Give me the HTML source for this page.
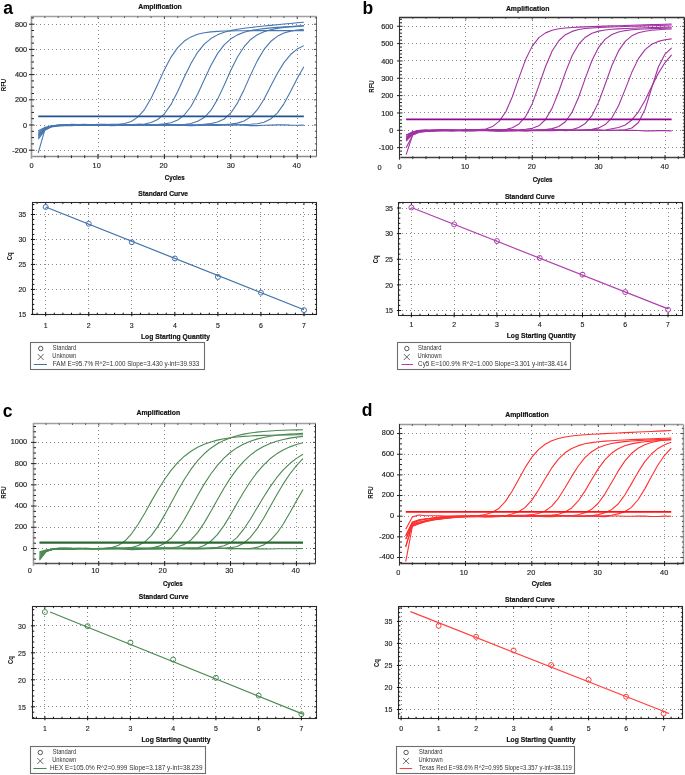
<!DOCTYPE html>
<html><head><meta charset="utf-8"><style>
html,body{margin:0;padding:0;background:#fff;}
body{width:685px;height:775px;overflow:hidden;font-family:"Liberation Sans",sans-serif;}
svg{display:block;will-change:transform;}
</style></head><body>
<svg width="685" height="775" viewBox="0 0 685 775" font-family="Liberation Sans, sans-serif">
<line x1="98.5" y1="18" x2="98.5" y2="155.5" stroke="#8a8a8a" stroke-width="1" stroke-dasharray="1 3"/>
<line x1="164.5" y1="18" x2="164.5" y2="155.5" stroke="#8a8a8a" stroke-width="1" stroke-dasharray="1 3"/>
<line x1="230.5" y1="18" x2="230.5" y2="155.5" stroke="#8a8a8a" stroke-width="1" stroke-dasharray="1 3"/>
<line x1="297.5" y1="18" x2="297.5" y2="155.5" stroke="#8a8a8a" stroke-width="1" stroke-dasharray="1 3"/>
<line x1="36" y1="24.5" x2="315.5" y2="24.5" stroke="#8a8a8a" stroke-width="1" stroke-dasharray="1 3"/>
<line x1="36" y1="49.5" x2="315.5" y2="49.5" stroke="#8a8a8a" stroke-width="1" stroke-dasharray="1 3"/>
<line x1="36" y1="74.5" x2="315.5" y2="74.5" stroke="#8a8a8a" stroke-width="1" stroke-dasharray="1 3"/>
<line x1="36" y1="99.5" x2="315.5" y2="99.5" stroke="#8a8a8a" stroke-width="1" stroke-dasharray="1 3"/>
<line x1="36" y1="125.5" x2="315.5" y2="125.5" stroke="#8a8a8a" stroke-width="1" stroke-dasharray="1 3"/>
<line x1="36" y1="150.5" x2="315.5" y2="150.5" stroke="#8a8a8a" stroke-width="1" stroke-dasharray="1 3"/>
<line x1="31.5" y1="16.5" x2="316.5" y2="16.5" stroke="#a0a0a0" stroke-width="1.5" />
<line x1="316.5" y1="16.5" x2="316.5" y2="156.5" stroke="#666" stroke-width="1" />
<line x1="44.88" y1="16.5" x2="44.88" y2="17.9" stroke="#333" stroke-width="0.9" />
<line x1="58.16" y1="16.5" x2="58.16" y2="17.9" stroke="#333" stroke-width="0.9" />
<line x1="71.44" y1="16.5" x2="71.44" y2="17.9" stroke="#333" stroke-width="0.9" />
<line x1="84.72" y1="16.5" x2="84.72" y2="17.9" stroke="#333" stroke-width="0.9" />
<line x1="98" y1="16.5" x2="98" y2="18.7" stroke="#333" stroke-width="0.9" />
<line x1="111.28" y1="16.5" x2="111.28" y2="17.9" stroke="#333" stroke-width="0.9" />
<line x1="124.56" y1="16.5" x2="124.56" y2="17.9" stroke="#333" stroke-width="0.9" />
<line x1="137.84" y1="16.5" x2="137.84" y2="17.9" stroke="#333" stroke-width="0.9" />
<line x1="151.12" y1="16.5" x2="151.12" y2="17.9" stroke="#333" stroke-width="0.9" />
<line x1="164.4" y1="16.5" x2="164.4" y2="18.7" stroke="#333" stroke-width="0.9" />
<line x1="177.68" y1="16.5" x2="177.68" y2="17.9" stroke="#333" stroke-width="0.9" />
<line x1="190.96" y1="16.5" x2="190.96" y2="17.9" stroke="#333" stroke-width="0.9" />
<line x1="204.24" y1="16.5" x2="204.24" y2="17.9" stroke="#333" stroke-width="0.9" />
<line x1="217.52" y1="16.5" x2="217.52" y2="17.9" stroke="#333" stroke-width="0.9" />
<line x1="230.8" y1="16.5" x2="230.8" y2="18.7" stroke="#333" stroke-width="0.9" />
<line x1="244.08" y1="16.5" x2="244.08" y2="17.9" stroke="#333" stroke-width="0.9" />
<line x1="257.36" y1="16.5" x2="257.36" y2="17.9" stroke="#333" stroke-width="0.9" />
<line x1="270.64" y1="16.5" x2="270.64" y2="17.9" stroke="#333" stroke-width="0.9" />
<line x1="283.92" y1="16.5" x2="283.92" y2="17.9" stroke="#333" stroke-width="0.9" />
<line x1="297.2" y1="16.5" x2="297.2" y2="18.7" stroke="#333" stroke-width="0.9" />
<line x1="310.48" y1="16.5" x2="310.48" y2="17.9" stroke="#333" stroke-width="0.9" />
<line x1="316.5" y1="150.2" x2="314" y2="150.2" stroke="#333" stroke-width="0.9" />
<line x1="316.5" y1="143.9" x2="314.9" y2="143.9" stroke="#333" stroke-width="0.9" />
<line x1="316.5" y1="137.6" x2="314.9" y2="137.6" stroke="#333" stroke-width="0.9" />
<line x1="316.5" y1="131.3" x2="314.9" y2="131.3" stroke="#333" stroke-width="0.9" />
<line x1="316.5" y1="125" x2="314" y2="125" stroke="#333" stroke-width="0.9" />
<line x1="316.5" y1="118.7" x2="314.9" y2="118.7" stroke="#333" stroke-width="0.9" />
<line x1="316.5" y1="112.4" x2="314.9" y2="112.4" stroke="#333" stroke-width="0.9" />
<line x1="316.5" y1="106.1" x2="314.9" y2="106.1" stroke="#333" stroke-width="0.9" />
<line x1="316.5" y1="99.8" x2="314" y2="99.8" stroke="#333" stroke-width="0.9" />
<line x1="316.5" y1="93.5" x2="314.9" y2="93.5" stroke="#333" stroke-width="0.9" />
<line x1="316.5" y1="87.2" x2="314.9" y2="87.2" stroke="#333" stroke-width="0.9" />
<line x1="316.5" y1="80.9" x2="314.9" y2="80.9" stroke="#333" stroke-width="0.9" />
<line x1="316.5" y1="74.6" x2="314" y2="74.6" stroke="#333" stroke-width="0.9" />
<line x1="316.5" y1="68.3" x2="314.9" y2="68.3" stroke="#333" stroke-width="0.9" />
<line x1="316.5" y1="62" x2="314.9" y2="62" stroke="#333" stroke-width="0.9" />
<line x1="316.5" y1="55.7" x2="314.9" y2="55.7" stroke="#333" stroke-width="0.9" />
<line x1="316.5" y1="49.4" x2="314" y2="49.4" stroke="#333" stroke-width="0.9" />
<line x1="316.5" y1="43.1" x2="314.9" y2="43.1" stroke="#333" stroke-width="0.9" />
<line x1="316.5" y1="36.8" x2="314.9" y2="36.8" stroke="#333" stroke-width="0.9" />
<line x1="316.5" y1="30.5" x2="314.9" y2="30.5" stroke="#333" stroke-width="0.9" />
<line x1="316.5" y1="24.2" x2="314" y2="24.2" stroke="#333" stroke-width="0.9" />
<line x1="316.5" y1="17.9" x2="314.9" y2="17.9" stroke="#333" stroke-width="0.9" />
<path d="M38.24,132.56 L44.88,128.04 L51.52,126.43 L58.16,125.6 L64.8,125.37 L71.44,125.31 L78.08,125.25 L84.72,125.36 L91.36,125.33 L98,124.9 L104.64,124.49 L111.28,124.32 L117.92,124.23 L124.56,123.53 L131.2,121.5 L137.84,117.15 L144.48,109.57 L151.12,98.28 L157.76,84.17 L164.4,69.64 L171.04,57.06 L177.68,47.56 L184.32,41.06 L190.96,36.89 L197.6,34.33 L204.24,32.8 L210.88,31.89 L217.52,31.36 L224.16,31.05 L230.8,30.87 L237.44,30.77 L244.08,30.71 L250.72,30.67 L257.36,30.65 L264,30.64 L270.64,30.63 L277.28,30.63 L283.92,30.63 L290.56,30.63 L297.2,30.63 L303.84,30.63" stroke="#4777b0" stroke-width="1.1" fill="none" stroke-linejoin="round"/>
<path d="M38.24,135.08 L44.88,128.66 L51.52,126.13 L58.16,125.19 L64.8,124.85 L71.44,124.67 L78.08,124.82 L84.72,125.08 L91.36,125.22 L98,125.43 L104.64,125.57 L111.28,125.41 L117.92,124.91 L124.56,124.67 L131.2,124.64 L137.84,124.38 L144.48,123.94 L151.12,122.56 L157.76,119.53 L164.4,113.8 L171.04,104.39 L177.68,91.58 L184.32,77.1 L190.96,63.43 L197.6,52.32 L204.24,44.19 L210.88,38.6 L217.52,34.86 L224.16,32.34 L230.8,30.59 L237.44,29.3 L244.08,28.29 L250.72,27.44 L257.36,26.69 L264,25.99 L270.64,25.33 L277.28,24.68 L283.92,24.05 L290.56,23.43 L297.2,22.8 L303.84,22.18" stroke="#4777b0" stroke-width="1.1" fill="none" stroke-linejoin="round"/>
<path d="M38.24,137.6 L44.88,129.35 L51.52,126.42 L58.16,125.66 L64.8,124.97 L71.44,124.19 L78.08,124.49 L84.72,125.14 L91.36,125 L98,124.51 L104.64,124.37 L111.28,124.7 L117.92,125.11 L124.56,125.06 L131.2,124.71 L137.84,124.72 L144.48,124.93 L151.12,124.9 L157.76,124.53 L164.4,123.91 L171.04,122.77 L177.68,120.08 L184.32,115.01 L190.96,106.51 L197.6,94.21 L204.24,79.67 L210.88,65.46 L217.52,53.61 L224.16,44.84 L230.8,38.82 L237.44,34.87 L244.08,32.29 L250.72,30.59 L257.36,29.43 L264,28.58 L270.64,27.92 L277.28,27.37 L283.92,26.88 L290.56,26.43 L297.2,26 L303.84,25.59" stroke="#4777b0" stroke-width="1.1" fill="none" stroke-linejoin="round"/>
<path d="M38.24,133.82 L44.88,128.2 L51.52,125.96 L58.16,125.18 L64.8,125.1 L71.44,124.91 L78.08,124.84 L84.72,124.89 L91.36,124.74 L98,124.89 L104.64,125.04 L111.28,125.01 L117.92,125.2 L124.56,125.17 L131.2,124.95 L137.84,125 L144.48,125.17 L151.12,125.14 L157.76,124.91 L164.4,124.83 L171.04,124.99 L177.68,124.88 L184.32,124.6 L190.96,123.51 L197.6,121.19 L204.24,117.52 L210.88,110.45 L217.52,99.37 L224.16,85.21 L230.8,70.24 L237.44,56.95 L244.08,46.68 L250.72,39.47 L257.36,34.7 L264,31.64 L270.64,29.67 L277.28,28.39 L283.92,27.51 L290.56,26.87 L297.2,26.38 L303.84,25.96" stroke="#4777b0" stroke-width="1.1" fill="none" stroke-linejoin="round"/>
<path d="M38.24,139.24 L44.88,130.31 L51.52,126.86 L58.16,125.9 L64.8,125.74 L71.44,125.64 L78.08,125.29 L84.72,124.96 L91.36,125.01 L98,124.94 L104.64,124.48 L111.28,124.49 L117.92,124.99 L124.56,125.24 L131.2,125.18 L137.84,125.05 L144.48,124.97 L151.12,124.82 L157.76,124.61 L164.4,124.44 L171.04,124.58 L177.68,124.86 L184.32,124.98 L190.96,125.09 L197.6,124.8 L204.24,124.21 L210.88,123.52 L217.52,122.02 L224.16,118.97 L230.8,112.94 L237.44,103.07 L244.08,89.65 L250.72,74.62 L257.36,60.63 L264,49.47 L270.64,41.53 L277.28,36.32 L283.92,33.07 L290.56,31.1 L297.2,29.93 L303.84,29.24" stroke="#4777b0" stroke-width="1.1" fill="none" stroke-linejoin="round"/>
<path d="M38.24,136.34 L44.88,128.6 L51.52,125.73 L58.16,125.13 L64.8,125.13 L71.44,125.1 L78.08,125.16 L84.72,125.27 L91.36,124.91 L98,124.4 L104.64,124.45 L111.28,124.63 L117.92,124.5 L124.56,124.43 L131.2,124.46 L137.84,124.39 L144.48,124.54 L151.12,124.67 L157.76,124.86 L164.4,125.35 L171.04,125.32 L177.68,125.08 L184.32,125.16 L190.96,125.17 L197.6,125.19 L204.24,124.89 L210.88,124.39 L217.52,124.47 L224.16,124.5 L230.8,124.04 L237.44,123.14 L244.08,121.05 L250.72,116.88 L257.36,109.74 L264,99.17 L270.64,86.32 L277.28,73.46 L283.92,62.59 L290.56,54.53 L297.2,49.08 L303.84,45.62" stroke="#4777b0" stroke-width="1.1" fill="none" stroke-linejoin="round"/>
<path d="M38.24,152.85 L44.88,129.68 L51.52,126.67 L58.16,125.5 L64.8,125.14 L71.44,124.95 L78.08,124.46 L84.72,124.33 L91.36,124.76 L98,124.94 L104.64,124.76 L111.28,124.47 L117.92,124.56 L124.56,125.06 L131.2,125.3 L137.84,125.33 L144.48,125.44 L151.12,125.35 L157.76,125.15 L164.4,124.99 L171.04,124.67 L177.68,124.72 L184.32,125.16 L190.96,125.32 L197.6,125.03 L204.24,124.81 L210.88,125.12 L217.52,125.33 L224.16,125.05 L230.8,124.91 L237.44,124.79 L244.08,124.46 L250.72,124.2 L257.36,123.71 L264,122.26 L270.64,119.01 L277.28,113.12 L283.92,103.81 L290.56,91.61 L297.2,78.48 L303.84,66.66" stroke="#4777b0" stroke-width="1.1" fill="none" stroke-linejoin="round"/>
<path d="M38.24,130.8 L44.88,127.39 L51.52,126.05 L58.16,125.2 L64.8,125 L71.44,124.86 L78.08,124.99 L84.72,125.29 L91.36,124.99 L98,124.71 L104.64,125.22 L111.28,125.61 L117.92,125.41 L124.56,125.17 L131.2,125.15 L137.84,125.23 L144.48,125.4 L151.12,125.46 L157.76,124.98 L164.4,124.53 L171.04,124.81 L177.68,125.24 L184.32,125.5 L190.96,125.66 L197.6,125.36 L204.24,125.18 L210.88,125.28 L217.52,125.11 L224.16,124.93 L230.8,124.87 L237.44,124.94 L244.08,125.24 L250.72,125.6 L257.36,125.59 L264,125.29 L270.64,125.08 L277.28,124.91 L283.92,124.87 L290.56,125.15 L297.2,125.21 L303.84,125.09" stroke="#4777b0" stroke-width="1.1" fill="none" stroke-linejoin="round"/>
<line x1="38.24" y1="116.43" x2="303.84" y2="116.43" stroke="#245490" stroke-width="1.75" />
<line x1="31.5" y1="15.9" x2="31.5" y2="158.7" stroke="#9a9a9a" stroke-width="1.6" />
<line x1="32.3" y1="156.5" x2="317" y2="156.5" stroke="#8a8a8a" stroke-width="1.5" />
<line x1="29" y1="150.2" x2="34.5" y2="150.2" stroke="#222" stroke-width="1" />
<line x1="31.5" y1="143.9" x2="34" y2="143.9" stroke="#222" stroke-width="1" />
<line x1="31.5" y1="137.6" x2="34" y2="137.6" stroke="#222" stroke-width="1" />
<line x1="31.5" y1="131.3" x2="34" y2="131.3" stroke="#222" stroke-width="1" />
<line x1="29" y1="125" x2="34.5" y2="125" stroke="#222" stroke-width="1" />
<line x1="31.5" y1="118.7" x2="34" y2="118.7" stroke="#222" stroke-width="1" />
<line x1="31.5" y1="112.4" x2="34" y2="112.4" stroke="#222" stroke-width="1" />
<line x1="31.5" y1="106.1" x2="34" y2="106.1" stroke="#222" stroke-width="1" />
<line x1="29" y1="99.8" x2="34.5" y2="99.8" stroke="#222" stroke-width="1" />
<line x1="31.5" y1="93.5" x2="34" y2="93.5" stroke="#222" stroke-width="1" />
<line x1="31.5" y1="87.2" x2="34" y2="87.2" stroke="#222" stroke-width="1" />
<line x1="31.5" y1="80.9" x2="34" y2="80.9" stroke="#222" stroke-width="1" />
<line x1="29" y1="74.6" x2="34.5" y2="74.6" stroke="#222" stroke-width="1" />
<line x1="31.5" y1="68.3" x2="34" y2="68.3" stroke="#222" stroke-width="1" />
<line x1="31.5" y1="62" x2="34" y2="62" stroke="#222" stroke-width="1" />
<line x1="31.5" y1="55.7" x2="34" y2="55.7" stroke="#222" stroke-width="1" />
<line x1="29" y1="49.4" x2="34.5" y2="49.4" stroke="#222" stroke-width="1" />
<line x1="31.5" y1="43.1" x2="34" y2="43.1" stroke="#222" stroke-width="1" />
<line x1="31.5" y1="36.8" x2="34" y2="36.8" stroke="#222" stroke-width="1" />
<line x1="31.5" y1="30.5" x2="34" y2="30.5" stroke="#222" stroke-width="1" />
<line x1="29" y1="24.2" x2="34.5" y2="24.2" stroke="#222" stroke-width="1" />
<line x1="31.5" y1="17.9" x2="34" y2="17.9" stroke="#222" stroke-width="1" />
<line x1="44.88" y1="155.3" x2="44.88" y2="158.1" stroke="#2a2a2a" stroke-width="1" />
<line x1="58.16" y1="155.3" x2="58.16" y2="158.1" stroke="#2a2a2a" stroke-width="1" />
<line x1="71.44" y1="155.3" x2="71.44" y2="158.1" stroke="#2a2a2a" stroke-width="1" />
<line x1="84.72" y1="155.3" x2="84.72" y2="158.1" stroke="#2a2a2a" stroke-width="1" />
<line x1="98" y1="154" x2="98" y2="159" stroke="#222" stroke-width="1" />
<line x1="111.28" y1="155.3" x2="111.28" y2="158.1" stroke="#2a2a2a" stroke-width="1" />
<line x1="124.56" y1="155.3" x2="124.56" y2="158.1" stroke="#2a2a2a" stroke-width="1" />
<line x1="137.84" y1="155.3" x2="137.84" y2="158.1" stroke="#2a2a2a" stroke-width="1" />
<line x1="151.12" y1="155.3" x2="151.12" y2="158.1" stroke="#2a2a2a" stroke-width="1" />
<line x1="164.4" y1="154" x2="164.4" y2="159" stroke="#222" stroke-width="1" />
<line x1="177.68" y1="155.3" x2="177.68" y2="158.1" stroke="#2a2a2a" stroke-width="1" />
<line x1="190.96" y1="155.3" x2="190.96" y2="158.1" stroke="#2a2a2a" stroke-width="1" />
<line x1="204.24" y1="155.3" x2="204.24" y2="158.1" stroke="#2a2a2a" stroke-width="1" />
<line x1="217.52" y1="155.3" x2="217.52" y2="158.1" stroke="#2a2a2a" stroke-width="1" />
<line x1="230.8" y1="154" x2="230.8" y2="159" stroke="#222" stroke-width="1" />
<line x1="244.08" y1="155.3" x2="244.08" y2="158.1" stroke="#2a2a2a" stroke-width="1" />
<line x1="257.36" y1="155.3" x2="257.36" y2="158.1" stroke="#2a2a2a" stroke-width="1" />
<line x1="270.64" y1="155.3" x2="270.64" y2="158.1" stroke="#2a2a2a" stroke-width="1" />
<line x1="283.92" y1="155.3" x2="283.92" y2="158.1" stroke="#2a2a2a" stroke-width="1" />
<line x1="297.2" y1="154" x2="297.2" y2="159" stroke="#222" stroke-width="1" />
<line x1="310.48" y1="155.3" x2="310.48" y2="158.1" stroke="#2a2a2a" stroke-width="1" />
<text x="27.1" y="26.7" font-size="7.8" text-anchor="end" fill="#222" stroke="#222" stroke-width="0.18" textLength="12.15" lengthAdjust="spacingAndGlyphs">800</text>
<text x="27.1" y="51.9" font-size="7.8" text-anchor="end" fill="#222" stroke="#222" stroke-width="0.18" textLength="12.15" lengthAdjust="spacingAndGlyphs">600</text>
<text x="27.1" y="77.1" font-size="7.8" text-anchor="end" fill="#222" stroke="#222" stroke-width="0.18" textLength="12.15" lengthAdjust="spacingAndGlyphs">400</text>
<text x="27.1" y="102.3" font-size="7.8" text-anchor="end" fill="#222" stroke="#222" stroke-width="0.18" textLength="12.15" lengthAdjust="spacingAndGlyphs">200</text>
<text x="27.1" y="127.5" font-size="7.8" text-anchor="end" fill="#222" stroke="#222" stroke-width="0.18" textLength="4.05" lengthAdjust="spacingAndGlyphs">0</text>
<text x="27.1" y="152.7" font-size="7.8" text-anchor="end" fill="#222" stroke="#222" stroke-width="0.18" textLength="14.75" lengthAdjust="spacingAndGlyphs">-200</text>
<text x="31.6" y="167.7" font-size="7.6" text-anchor="middle" fill="#222" stroke="#222" stroke-width="0.15" textLength="4.1" lengthAdjust="spacingAndGlyphs">0</text>
<text x="96.7" y="167.7" font-size="7.6" text-anchor="middle" fill="#222" stroke="#222" stroke-width="0.15" textLength="8.2" lengthAdjust="spacingAndGlyphs">10</text>
<text x="163.6" y="167.7" font-size="7.6" text-anchor="middle" fill="#222" stroke="#222" stroke-width="0.15" textLength="8.2" lengthAdjust="spacingAndGlyphs">20</text>
<text x="230.8" y="167.7" font-size="7.6" text-anchor="middle" fill="#222" stroke="#222" stroke-width="0.15" textLength="8.2" lengthAdjust="spacingAndGlyphs">30</text>
<text x="296.7" y="167.7" font-size="7.6" text-anchor="middle" fill="#222" stroke="#222" stroke-width="0.15" textLength="8.2" lengthAdjust="spacingAndGlyphs">40</text>
<text x="160" y="9.1" font-size="7.3" text-anchor="middle" fill="#111" stroke="#111" stroke-width="0.2" font-weight="bold" textLength="43.6" lengthAdjust="spacingAndGlyphs">Amplification</text>
<text x="174.7" y="180.1" font-size="7" text-anchor="middle" fill="#111" stroke="#111" stroke-width="0.2" font-weight="bold" textLength="19.8" lengthAdjust="spacingAndGlyphs">Cycles</text>
<text x="5.9" y="85" font-size="6.6" text-anchor="middle" fill="#111" font-weight="bold" textLength="12.5" lengthAdjust="spacingAndGlyphs" transform="rotate(-90 5.9 85)">RFU</text>
<line x1="465.5" y1="20" x2="465.5" y2="156.5" stroke="#8a8a8a" stroke-width="1" stroke-dasharray="1 3"/>
<line x1="532.5" y1="20" x2="532.5" y2="156.5" stroke="#8a8a8a" stroke-width="1" stroke-dasharray="1 3"/>
<line x1="598.5" y1="20" x2="598.5" y2="156.5" stroke="#8a8a8a" stroke-width="1" stroke-dasharray="1 3"/>
<line x1="665.5" y1="20" x2="665.5" y2="156.5" stroke="#8a8a8a" stroke-width="1" stroke-dasharray="1 3"/>
<line x1="404" y1="26.5" x2="683.5" y2="26.5" stroke="#8a8a8a" stroke-width="1" stroke-dasharray="1 3"/>
<line x1="404" y1="43.5" x2="683.5" y2="43.5" stroke="#8a8a8a" stroke-width="1" stroke-dasharray="1 3"/>
<line x1="404" y1="60.5" x2="683.5" y2="60.5" stroke="#8a8a8a" stroke-width="1" stroke-dasharray="1 3"/>
<line x1="404" y1="78.5" x2="683.5" y2="78.5" stroke="#8a8a8a" stroke-width="1" stroke-dasharray="1 3"/>
<line x1="404" y1="95.5" x2="683.5" y2="95.5" stroke="#8a8a8a" stroke-width="1" stroke-dasharray="1 3"/>
<line x1="404" y1="112.5" x2="683.5" y2="112.5" stroke="#8a8a8a" stroke-width="1" stroke-dasharray="1 3"/>
<line x1="404" y1="130.5" x2="683.5" y2="130.5" stroke="#8a8a8a" stroke-width="1" stroke-dasharray="1 3"/>
<line x1="404" y1="147.5" x2="683.5" y2="147.5" stroke="#8a8a8a" stroke-width="1" stroke-dasharray="1 3"/>
<line x1="399.5" y1="17.5" x2="684.5" y2="17.5" stroke="#333" stroke-width="1.3" />
<line x1="684.5" y1="17.5" x2="684.5" y2="157.5" stroke="#222" stroke-width="1.2" />
<line x1="412.77" y1="17.5" x2="412.77" y2="18.9" stroke="#333" stroke-width="0.9" />
<line x1="426.05" y1="17.5" x2="426.05" y2="18.9" stroke="#333" stroke-width="0.9" />
<line x1="439.32" y1="17.5" x2="439.32" y2="18.9" stroke="#333" stroke-width="0.9" />
<line x1="452.6" y1="17.5" x2="452.6" y2="18.9" stroke="#333" stroke-width="0.9" />
<line x1="465.88" y1="17.5" x2="465.88" y2="19.7" stroke="#333" stroke-width="0.9" />
<line x1="479.15" y1="17.5" x2="479.15" y2="18.9" stroke="#333" stroke-width="0.9" />
<line x1="492.43" y1="17.5" x2="492.43" y2="18.9" stroke="#333" stroke-width="0.9" />
<line x1="505.7" y1="17.5" x2="505.7" y2="18.9" stroke="#333" stroke-width="0.9" />
<line x1="518.98" y1="17.5" x2="518.98" y2="18.9" stroke="#333" stroke-width="0.9" />
<line x1="532.25" y1="17.5" x2="532.25" y2="19.7" stroke="#333" stroke-width="0.9" />
<line x1="545.52" y1="17.5" x2="545.52" y2="18.9" stroke="#333" stroke-width="0.9" />
<line x1="558.8" y1="17.5" x2="558.8" y2="18.9" stroke="#333" stroke-width="0.9" />
<line x1="572.08" y1="17.5" x2="572.08" y2="18.9" stroke="#333" stroke-width="0.9" />
<line x1="585.35" y1="17.5" x2="585.35" y2="18.9" stroke="#333" stroke-width="0.9" />
<line x1="598.62" y1="17.5" x2="598.62" y2="19.7" stroke="#333" stroke-width="0.9" />
<line x1="611.9" y1="17.5" x2="611.9" y2="18.9" stroke="#333" stroke-width="0.9" />
<line x1="625.17" y1="17.5" x2="625.17" y2="18.9" stroke="#333" stroke-width="0.9" />
<line x1="638.45" y1="17.5" x2="638.45" y2="18.9" stroke="#333" stroke-width="0.9" />
<line x1="651.73" y1="17.5" x2="651.73" y2="18.9" stroke="#333" stroke-width="0.9" />
<line x1="665" y1="17.5" x2="665" y2="19.7" stroke="#333" stroke-width="0.9" />
<line x1="678.28" y1="17.5" x2="678.28" y2="18.9" stroke="#333" stroke-width="0.9" />
<line x1="684.5" y1="154.58" x2="682.9" y2="154.58" stroke="#333" stroke-width="0.9" />
<line x1="684.5" y1="151.11" x2="682.9" y2="151.11" stroke="#333" stroke-width="0.9" />
<line x1="684.5" y1="147.64" x2="682" y2="147.64" stroke="#333" stroke-width="0.9" />
<line x1="684.5" y1="144.17" x2="682.9" y2="144.17" stroke="#333" stroke-width="0.9" />
<line x1="684.5" y1="140.7" x2="682.9" y2="140.7" stroke="#333" stroke-width="0.9" />
<line x1="684.5" y1="137.24" x2="682.9" y2="137.24" stroke="#333" stroke-width="0.9" />
<line x1="684.5" y1="133.77" x2="682.9" y2="133.77" stroke="#333" stroke-width="0.9" />
<line x1="684.5" y1="130.3" x2="682" y2="130.3" stroke="#333" stroke-width="0.9" />
<line x1="684.5" y1="126.83" x2="682.9" y2="126.83" stroke="#333" stroke-width="0.9" />
<line x1="684.5" y1="123.36" x2="682.9" y2="123.36" stroke="#333" stroke-width="0.9" />
<line x1="684.5" y1="119.9" x2="682.9" y2="119.9" stroke="#333" stroke-width="0.9" />
<line x1="684.5" y1="116.43" x2="682.9" y2="116.43" stroke="#333" stroke-width="0.9" />
<line x1="684.5" y1="112.96" x2="682" y2="112.96" stroke="#333" stroke-width="0.9" />
<line x1="684.5" y1="109.49" x2="682.9" y2="109.49" stroke="#333" stroke-width="0.9" />
<line x1="684.5" y1="106.02" x2="682.9" y2="106.02" stroke="#333" stroke-width="0.9" />
<line x1="684.5" y1="102.56" x2="682.9" y2="102.56" stroke="#333" stroke-width="0.9" />
<line x1="684.5" y1="99.09" x2="682.9" y2="99.09" stroke="#333" stroke-width="0.9" />
<line x1="684.5" y1="95.62" x2="682" y2="95.62" stroke="#333" stroke-width="0.9" />
<line x1="684.5" y1="92.15" x2="682.9" y2="92.15" stroke="#333" stroke-width="0.9" />
<line x1="684.5" y1="88.68" x2="682.9" y2="88.68" stroke="#333" stroke-width="0.9" />
<line x1="684.5" y1="85.22" x2="682.9" y2="85.22" stroke="#333" stroke-width="0.9" />
<line x1="684.5" y1="81.75" x2="682.9" y2="81.75" stroke="#333" stroke-width="0.9" />
<line x1="684.5" y1="78.28" x2="682" y2="78.28" stroke="#333" stroke-width="0.9" />
<line x1="684.5" y1="74.81" x2="682.9" y2="74.81" stroke="#333" stroke-width="0.9" />
<line x1="684.5" y1="71.34" x2="682.9" y2="71.34" stroke="#333" stroke-width="0.9" />
<line x1="684.5" y1="67.88" x2="682.9" y2="67.88" stroke="#333" stroke-width="0.9" />
<line x1="684.5" y1="64.41" x2="682.9" y2="64.41" stroke="#333" stroke-width="0.9" />
<line x1="684.5" y1="60.94" x2="682" y2="60.94" stroke="#333" stroke-width="0.9" />
<line x1="684.5" y1="57.47" x2="682.9" y2="57.47" stroke="#333" stroke-width="0.9" />
<line x1="684.5" y1="54" x2="682.9" y2="54" stroke="#333" stroke-width="0.9" />
<line x1="684.5" y1="50.54" x2="682.9" y2="50.54" stroke="#333" stroke-width="0.9" />
<line x1="684.5" y1="47.07" x2="682.9" y2="47.07" stroke="#333" stroke-width="0.9" />
<line x1="684.5" y1="43.6" x2="682" y2="43.6" stroke="#333" stroke-width="0.9" />
<line x1="684.5" y1="40.13" x2="682.9" y2="40.13" stroke="#333" stroke-width="0.9" />
<line x1="684.5" y1="36.66" x2="682.9" y2="36.66" stroke="#333" stroke-width="0.9" />
<line x1="684.5" y1="33.2" x2="682.9" y2="33.2" stroke="#333" stroke-width="0.9" />
<line x1="684.5" y1="29.73" x2="682.9" y2="29.73" stroke="#333" stroke-width="0.9" />
<line x1="684.5" y1="26.26" x2="682" y2="26.26" stroke="#333" stroke-width="0.9" />
<line x1="684.5" y1="22.79" x2="682.9" y2="22.79" stroke="#333" stroke-width="0.9" />
<line x1="684.5" y1="19.32" x2="682.9" y2="19.32" stroke="#333" stroke-width="0.9" />
<path d="M406.14,135.5 L412.77,131.75 L419.41,130.38 L426.05,129.87 L432.69,130.25 L439.32,130.38 L445.96,130.14 L452.6,130.31 L459.24,130.48 L465.88,130.27 L472.51,129.86 L479.15,129.56 L485.79,128.99 L492.43,126.57 L499.06,121.31 L505.7,112 L512.34,96.8 L518.98,77.68 L525.61,59.58 L532.25,46.12 L538.89,37.67 L545.52,32.87 L552.16,30.26 L558.8,28.82 L565.44,28 L572.08,27.49 L578.71,27.13 L585.35,26.84 L591.99,26.59 L598.62,26.36 L605.26,26.14 L611.9,25.92 L618.54,25.71 L625.17,25.49 L631.81,25.28 L638.45,25.07 L645.09,24.86 L651.73,24.64 L658.36,24.43 L665,24.22 L671.64,24.01" stroke="#a232a2" stroke-width="1.1" fill="none" stroke-linejoin="round"/>
<path d="M406.14,138.1 L412.77,132.89 L419.41,130.89 L426.05,130.61 L432.69,130.86 L439.32,130.82 L445.96,130.49 L452.6,130.2 L459.24,130 L465.88,129.77 L472.51,129.93 L479.15,130.31 L485.79,130.3 L492.43,130.07 L499.06,129.99 L505.7,129.44 L512.34,127.68 L518.98,123.98 L525.61,116.57 L532.25,103.64 L538.89,85.57 L545.52,66.51 L552.16,51.03 L558.8,40.74 L565.44,34.71 L572.08,31.39 L578.71,29.58 L585.35,28.57 L591.99,27.96 L598.62,27.55 L605.26,27.25 L611.9,26.99 L618.54,26.75 L625.17,26.53 L631.81,26.31 L638.45,26.1 L645.09,25.89 L651.73,25.68 L658.36,25.47 L665,25.26 L671.64,25.05" stroke="#a232a2" stroke-width="1.1" fill="none" stroke-linejoin="round"/>
<path d="M406.14,141.05 L412.77,134.02 L419.41,131.49 L426.05,130.69 L432.69,130.19 L439.32,129.95 L445.96,129.92 L452.6,130.24 L459.24,130.48 L465.88,130.17 L472.51,129.86 L479.15,129.97 L485.79,129.95 L492.43,129.82 L499.06,130.06 L505.7,130.09 L512.34,130 L518.98,129.85 L525.61,129.25 L532.25,128.34 L538.89,125.78 L545.52,119.5 L552.16,108.14 L558.8,91.47 L565.44,72.4 L572.08,55.78 L578.71,44.17 L585.35,37.17 L591.99,33.26 L598.62,31.14 L605.26,29.97 L611.9,29.28 L618.54,28.84 L625.17,28.51 L631.81,28.25 L638.45,28.01 L645.09,27.79 L651.73,27.58 L658.36,27.37 L665,27.16 L671.64,26.95" stroke="#a232a2" stroke-width="1.1" fill="none" stroke-linejoin="round"/>
<path d="M406.14,137.24 L412.77,132 L419.41,130.58 L426.05,130.79 L432.69,130.82 L439.32,130.36 L445.96,130.26 L452.6,130.49 L459.24,130.77 L465.88,130.63 L472.51,130.07 L479.15,130.17 L485.79,130.52 L492.43,130.34 L499.06,130.13 L505.7,129.85 L512.34,129.66 L518.98,130.21 L525.61,130.65 L532.25,130.49 L538.89,130.18 L545.52,129.62 L552.16,128.61 L558.8,126.52 L565.44,121.69 L572.08,112.18 L578.71,96.99 L585.35,78.16 L591.99,60.45 L598.62,47.34 L605.26,39.15 L611.9,34.5 L618.54,31.97 L625.17,30.58 L631.81,29.79 L638.45,29.29 L645.09,28.94 L651.73,28.67 L658.36,28.43 L665,28.21 L671.64,27.99" stroke="#a232a2" stroke-width="1.1" fill="none" stroke-linejoin="round"/>
<path d="M406.14,139.84 L412.77,133.5 L419.41,131.78 L426.05,130.88 L432.69,130.14 L439.32,129.71 L445.96,129.73 L452.6,130.14 L459.24,130.33 L465.88,130.07 L472.51,130.09 L479.15,130.13 L485.79,129.86 L492.43,129.79 L499.06,130.13 L505.7,130.58 L512.34,130.83 L518.98,130.79 L525.61,130.4 L532.25,130.01 L538.89,129.86 L545.52,130.02 L552.16,129.88 L558.8,129.58 L565.44,129.92 L572.08,129.61 L578.71,127.55 L585.35,123.44 L591.99,115.61 L598.62,102.13 L605.26,83.98 L611.9,65.49 L618.54,50.9 L625.17,41.38 L631.81,35.86 L638.45,32.84 L645.09,31.19 L651.73,30.27 L658.36,29.7 L665,29.32 L671.64,29.03" stroke="#a232a2" stroke-width="1.1" fill="none" stroke-linejoin="round"/>
<path d="M406.14,147.64 L412.77,134.99 L419.41,131.98 L426.05,131.33 L432.69,131.09 L439.32,130.77 L445.96,131.01 L452.6,131.16 L459.24,130.82 L465.88,130.57 L472.51,130.62 L479.15,130.79 L485.79,130.81 L492.43,131 L499.06,131.16 L505.7,130.96 L512.34,130.71 L518.98,130.53 L525.61,130.38 L532.25,130.18 L538.89,130.07 L545.52,130.01 L552.16,129.97 L558.8,130.18 L565.44,130.27 L572.08,130.24 L578.71,130.44 L585.35,130.14 L591.99,129.32 L598.62,127.89 L605.26,124.59 L611.9,117.76 L618.54,105.77 L625.17,89.38 L631.81,72.34 L638.45,58.63 L645.09,49.57 L651.73,44.29 L658.36,41.38 L665,39.8 L671.64,38.92" stroke="#a232a2" stroke-width="1.1" fill="none" stroke-linejoin="round"/>
<path d="M406.14,154.58 L412.77,134.7 L419.41,132.13 L426.05,131.33 L432.69,130.65 L439.32,130.35 L445.96,130.48 L452.6,130.36 L459.24,130.41 L465.88,130.81 L472.51,130.92 L479.15,130.55 L485.79,130.52 L492.43,130.76 L499.06,130.87 L505.7,130.63 L512.34,130.28 L518.98,130.25 L525.61,130.24 L532.25,130.26 L538.89,130.37 L545.52,130.4 L552.16,130.01 L558.8,129.61 L565.44,129.83 L572.08,130.21 L578.71,130.28 L585.35,129.96 L591.99,130 L598.62,130.5 L605.26,130.05 L611.9,128.76 L618.54,127.45 L625.17,124.94 L631.81,119.96 L638.45,111.8 L645.09,100.26 L651.73,86.6 L658.36,73.34 L665,62.55 L671.64,54.87" stroke="#a232a2" stroke-width="1.1" fill="none" stroke-linejoin="round"/>
<path d="M406.14,138.97 L412.77,132.21 L419.41,130.7 L426.05,130.4 L432.69,130.7 L439.32,130.57 L445.96,130.23 L452.6,130.42 L459.24,130.36 L465.88,130.02 L472.51,130.17 L479.15,130.3 L485.79,130.34 L492.43,130.56 L499.06,130.82 L505.7,130.63 L512.34,130.35 L518.98,130.54 L525.61,130.69 L532.25,130.78 L538.89,130.68 L545.52,130.72 L552.16,130.75 L558.8,130.37 L565.44,130.15 L572.08,130.24 L578.71,130.4 L585.35,129.96 L591.99,129.59 L598.62,130.12 L605.26,130.51 L611.9,130.31 L618.54,130.15 L625.17,129.76 L631.81,128.03 L638.45,122.47 L645.09,109.14 L651.73,87.75 L658.36,67 L665,54.07 L671.64,47.93" stroke="#a232a2" stroke-width="1.1" fill="none" stroke-linejoin="round"/>
<path d="M406.14,134.98 L412.77,131.89 L419.41,130.78 L426.05,130.49 L432.69,130.18 L439.32,130.34 L445.96,130.5 L452.6,130.11 L459.24,130.41 L465.88,130.8 L472.51,130.38 L479.15,129.91 L485.79,129.88 L492.43,129.78 L499.06,129.71 L505.7,130.03 L512.34,130.33 L518.98,130.7 L525.61,130.98 L532.25,130.47 L538.89,130.23 L545.52,130.53 L552.16,130.25 L558.8,130.29 L565.44,130.69 L572.08,130.29 L578.71,129.95 L585.35,130.22 L591.99,130.1 L598.62,130.1 L605.26,130.45 L611.9,130.3 L618.54,130.25 L625.17,130.4 L631.81,130.36 L638.45,130.55 L645.09,130.9 L651.73,130.88 L658.36,130.59 L665,130.62 L671.64,130.89" stroke="#a232a2" stroke-width="1.1" fill="none" stroke-linejoin="round"/>
<line x1="406.14" y1="119.38" x2="671.64" y2="119.38" stroke="#8e0a8e" stroke-width="1.6" />
<line x1="399.5" y1="16.9" x2="399.5" y2="159.7" stroke="#333" stroke-width="1.1" />
<line x1="400.3" y1="157.5" x2="685" y2="157.5" stroke="#444" stroke-width="1.3" />
<line x1="399.5" y1="154.58" x2="402" y2="154.58" stroke="#222" stroke-width="1" />
<line x1="399.5" y1="151.11" x2="402" y2="151.11" stroke="#222" stroke-width="1" />
<line x1="397" y1="147.64" x2="402.5" y2="147.64" stroke="#222" stroke-width="1" />
<line x1="399.5" y1="144.17" x2="402" y2="144.17" stroke="#222" stroke-width="1" />
<line x1="399.5" y1="140.7" x2="402" y2="140.7" stroke="#222" stroke-width="1" />
<line x1="399.5" y1="137.24" x2="402" y2="137.24" stroke="#222" stroke-width="1" />
<line x1="399.5" y1="133.77" x2="402" y2="133.77" stroke="#222" stroke-width="1" />
<line x1="397" y1="130.3" x2="402.5" y2="130.3" stroke="#222" stroke-width="1" />
<line x1="399.5" y1="126.83" x2="402" y2="126.83" stroke="#222" stroke-width="1" />
<line x1="399.5" y1="123.36" x2="402" y2="123.36" stroke="#222" stroke-width="1" />
<line x1="399.5" y1="119.9" x2="402" y2="119.9" stroke="#222" stroke-width="1" />
<line x1="399.5" y1="116.43" x2="402" y2="116.43" stroke="#222" stroke-width="1" />
<line x1="397" y1="112.96" x2="402.5" y2="112.96" stroke="#222" stroke-width="1" />
<line x1="399.5" y1="109.49" x2="402" y2="109.49" stroke="#222" stroke-width="1" />
<line x1="399.5" y1="106.02" x2="402" y2="106.02" stroke="#222" stroke-width="1" />
<line x1="399.5" y1="102.56" x2="402" y2="102.56" stroke="#222" stroke-width="1" />
<line x1="399.5" y1="99.09" x2="402" y2="99.09" stroke="#222" stroke-width="1" />
<line x1="397" y1="95.62" x2="402.5" y2="95.62" stroke="#222" stroke-width="1" />
<line x1="399.5" y1="92.15" x2="402" y2="92.15" stroke="#222" stroke-width="1" />
<line x1="399.5" y1="88.68" x2="402" y2="88.68" stroke="#222" stroke-width="1" />
<line x1="399.5" y1="85.22" x2="402" y2="85.22" stroke="#222" stroke-width="1" />
<line x1="399.5" y1="81.75" x2="402" y2="81.75" stroke="#222" stroke-width="1" />
<line x1="397" y1="78.28" x2="402.5" y2="78.28" stroke="#222" stroke-width="1" />
<line x1="399.5" y1="74.81" x2="402" y2="74.81" stroke="#222" stroke-width="1" />
<line x1="399.5" y1="71.34" x2="402" y2="71.34" stroke="#222" stroke-width="1" />
<line x1="399.5" y1="67.88" x2="402" y2="67.88" stroke="#222" stroke-width="1" />
<line x1="399.5" y1="64.41" x2="402" y2="64.41" stroke="#222" stroke-width="1" />
<line x1="397" y1="60.94" x2="402.5" y2="60.94" stroke="#222" stroke-width="1" />
<line x1="399.5" y1="57.47" x2="402" y2="57.47" stroke="#222" stroke-width="1" />
<line x1="399.5" y1="54" x2="402" y2="54" stroke="#222" stroke-width="1" />
<line x1="399.5" y1="50.54" x2="402" y2="50.54" stroke="#222" stroke-width="1" />
<line x1="399.5" y1="47.07" x2="402" y2="47.07" stroke="#222" stroke-width="1" />
<line x1="397" y1="43.6" x2="402.5" y2="43.6" stroke="#222" stroke-width="1" />
<line x1="399.5" y1="40.13" x2="402" y2="40.13" stroke="#222" stroke-width="1" />
<line x1="399.5" y1="36.66" x2="402" y2="36.66" stroke="#222" stroke-width="1" />
<line x1="399.5" y1="33.2" x2="402" y2="33.2" stroke="#222" stroke-width="1" />
<line x1="399.5" y1="29.73" x2="402" y2="29.73" stroke="#222" stroke-width="1" />
<line x1="397" y1="26.26" x2="402.5" y2="26.26" stroke="#222" stroke-width="1" />
<line x1="399.5" y1="22.79" x2="402" y2="22.79" stroke="#222" stroke-width="1" />
<line x1="399.5" y1="19.32" x2="402" y2="19.32" stroke="#222" stroke-width="1" />
<line x1="412.77" y1="156.3" x2="412.77" y2="159.1" stroke="#2a2a2a" stroke-width="1" />
<line x1="426.05" y1="156.3" x2="426.05" y2="159.1" stroke="#2a2a2a" stroke-width="1" />
<line x1="439.32" y1="156.3" x2="439.32" y2="159.1" stroke="#2a2a2a" stroke-width="1" />
<line x1="452.6" y1="156.3" x2="452.6" y2="159.1" stroke="#2a2a2a" stroke-width="1" />
<line x1="465.88" y1="155" x2="465.88" y2="160" stroke="#222" stroke-width="1" />
<line x1="479.15" y1="156.3" x2="479.15" y2="159.1" stroke="#2a2a2a" stroke-width="1" />
<line x1="492.43" y1="156.3" x2="492.43" y2="159.1" stroke="#2a2a2a" stroke-width="1" />
<line x1="505.7" y1="156.3" x2="505.7" y2="159.1" stroke="#2a2a2a" stroke-width="1" />
<line x1="518.98" y1="156.3" x2="518.98" y2="159.1" stroke="#2a2a2a" stroke-width="1" />
<line x1="532.25" y1="155" x2="532.25" y2="160" stroke="#222" stroke-width="1" />
<line x1="545.52" y1="156.3" x2="545.52" y2="159.1" stroke="#2a2a2a" stroke-width="1" />
<line x1="558.8" y1="156.3" x2="558.8" y2="159.1" stroke="#2a2a2a" stroke-width="1" />
<line x1="572.08" y1="156.3" x2="572.08" y2="159.1" stroke="#2a2a2a" stroke-width="1" />
<line x1="585.35" y1="156.3" x2="585.35" y2="159.1" stroke="#2a2a2a" stroke-width="1" />
<line x1="598.62" y1="155" x2="598.62" y2="160" stroke="#222" stroke-width="1" />
<line x1="611.9" y1="156.3" x2="611.9" y2="159.1" stroke="#2a2a2a" stroke-width="1" />
<line x1="625.17" y1="156.3" x2="625.17" y2="159.1" stroke="#2a2a2a" stroke-width="1" />
<line x1="638.45" y1="156.3" x2="638.45" y2="159.1" stroke="#2a2a2a" stroke-width="1" />
<line x1="651.73" y1="156.3" x2="651.73" y2="159.1" stroke="#2a2a2a" stroke-width="1" />
<line x1="665" y1="155" x2="665" y2="160" stroke="#222" stroke-width="1" />
<line x1="678.28" y1="156.3" x2="678.28" y2="159.1" stroke="#2a2a2a" stroke-width="1" />
<text x="393.4" y="29.06" font-size="7.8" text-anchor="end" fill="#222" stroke="#222" stroke-width="0.18" textLength="12.15" lengthAdjust="spacingAndGlyphs">600</text>
<text x="393.4" y="46.4" font-size="7.8" text-anchor="end" fill="#222" stroke="#222" stroke-width="0.18" textLength="12.15" lengthAdjust="spacingAndGlyphs">500</text>
<text x="393.4" y="63.74" font-size="7.8" text-anchor="end" fill="#222" stroke="#222" stroke-width="0.18" textLength="12.15" lengthAdjust="spacingAndGlyphs">400</text>
<text x="393.4" y="81.08" font-size="7.8" text-anchor="end" fill="#222" stroke="#222" stroke-width="0.18" textLength="12.15" lengthAdjust="spacingAndGlyphs">300</text>
<text x="393.4" y="98.42" font-size="7.8" text-anchor="end" fill="#222" stroke="#222" stroke-width="0.18" textLength="12.15" lengthAdjust="spacingAndGlyphs">200</text>
<text x="393.4" y="115.76" font-size="7.8" text-anchor="end" fill="#222" stroke="#222" stroke-width="0.18" textLength="12.15" lengthAdjust="spacingAndGlyphs">100</text>
<text x="393.4" y="133.1" font-size="7.8" text-anchor="end" fill="#222" stroke="#222" stroke-width="0.18" textLength="4.05" lengthAdjust="spacingAndGlyphs">0</text>
<text x="393.4" y="150.44" font-size="7.8" text-anchor="end" fill="#222" stroke="#222" stroke-width="0.18" textLength="14.75" lengthAdjust="spacingAndGlyphs">-100</text>
<text x="399.5" y="169.3" font-size="7.6" text-anchor="middle" fill="#222" stroke="#222" stroke-width="0.15" textLength="4.1" lengthAdjust="spacingAndGlyphs">0</text>
<text x="465.07" y="169.3" font-size="7.6" text-anchor="middle" fill="#222" stroke="#222" stroke-width="0.15" textLength="8.2" lengthAdjust="spacingAndGlyphs">10</text>
<text x="531.85" y="169.3" font-size="7.6" text-anchor="middle" fill="#222" stroke="#222" stroke-width="0.15" textLength="8.2" lengthAdjust="spacingAndGlyphs">20</text>
<text x="598.62" y="169.3" font-size="7.6" text-anchor="middle" fill="#222" stroke="#222" stroke-width="0.15" textLength="8.2" lengthAdjust="spacingAndGlyphs">30</text>
<text x="664.7" y="169.3" font-size="7.6" text-anchor="middle" fill="#222" stroke="#222" stroke-width="0.15" textLength="8.2" lengthAdjust="spacingAndGlyphs">40</text>
<text x="527.7" y="11.1" font-size="7.3" text-anchor="middle" fill="#111" stroke="#111" stroke-width="0.2" font-weight="bold" textLength="43.6" lengthAdjust="spacingAndGlyphs">Amplification</text>
<text x="542.6" y="181.5" font-size="7" text-anchor="middle" fill="#111" stroke="#111" stroke-width="0.2" font-weight="bold" textLength="19.8" lengthAdjust="spacingAndGlyphs">Cycles</text>
<text x="374.2" y="86.5" font-size="6.6" text-anchor="middle" fill="#111" font-weight="bold" textLength="12.5" lengthAdjust="spacingAndGlyphs" transform="rotate(-90 374.2 86.5)">RFU</text>
<line x1="98.5" y1="426" x2="98.5" y2="562.5" stroke="#8a8a8a" stroke-width="1" stroke-dasharray="1 3"/>
<line x1="164.5" y1="426" x2="164.5" y2="562.5" stroke="#8a8a8a" stroke-width="1" stroke-dasharray="1 3"/>
<line x1="230.5" y1="426" x2="230.5" y2="562.5" stroke="#8a8a8a" stroke-width="1" stroke-dasharray="1 3"/>
<line x1="296.5" y1="426" x2="296.5" y2="562.5" stroke="#8a8a8a" stroke-width="1" stroke-dasharray="1 3"/>
<line x1="38" y1="442.5" x2="314.5" y2="442.5" stroke="#8a8a8a" stroke-width="1" stroke-dasharray="1 3"/>
<line x1="38" y1="463.5" x2="314.5" y2="463.5" stroke="#8a8a8a" stroke-width="1" stroke-dasharray="1 3"/>
<line x1="38" y1="484.5" x2="314.5" y2="484.5" stroke="#8a8a8a" stroke-width="1" stroke-dasharray="1 3"/>
<line x1="38" y1="506.5" x2="314.5" y2="506.5" stroke="#8a8a8a" stroke-width="1" stroke-dasharray="1 3"/>
<line x1="38" y1="527.5" x2="314.5" y2="527.5" stroke="#8a8a8a" stroke-width="1" stroke-dasharray="1 3"/>
<line x1="38" y1="548.5" x2="314.5" y2="548.5" stroke="#8a8a8a" stroke-width="1" stroke-dasharray="1 3"/>
<line x1="33.5" y1="423.5" x2="315.5" y2="423.5" stroke="#a0a0a0" stroke-width="1.5" />
<line x1="315.5" y1="423.5" x2="315.5" y2="563.5" stroke="#333" stroke-width="1" />
<line x1="46.08" y1="423.5" x2="46.08" y2="424.9" stroke="#333" stroke-width="0.9" />
<line x1="59.25" y1="423.5" x2="59.25" y2="424.9" stroke="#333" stroke-width="0.9" />
<line x1="72.43" y1="423.5" x2="72.43" y2="424.9" stroke="#333" stroke-width="0.9" />
<line x1="85.6" y1="423.5" x2="85.6" y2="424.9" stroke="#333" stroke-width="0.9" />
<line x1="98.78" y1="423.5" x2="98.78" y2="425.7" stroke="#333" stroke-width="0.9" />
<line x1="111.96" y1="423.5" x2="111.96" y2="424.9" stroke="#333" stroke-width="0.9" />
<line x1="125.13" y1="423.5" x2="125.13" y2="424.9" stroke="#333" stroke-width="0.9" />
<line x1="138.31" y1="423.5" x2="138.31" y2="424.9" stroke="#333" stroke-width="0.9" />
<line x1="151.48" y1="423.5" x2="151.48" y2="424.9" stroke="#333" stroke-width="0.9" />
<line x1="164.66" y1="423.5" x2="164.66" y2="425.7" stroke="#333" stroke-width="0.9" />
<line x1="177.84" y1="423.5" x2="177.84" y2="424.9" stroke="#333" stroke-width="0.9" />
<line x1="191.01" y1="423.5" x2="191.01" y2="424.9" stroke="#333" stroke-width="0.9" />
<line x1="204.19" y1="423.5" x2="204.19" y2="424.9" stroke="#333" stroke-width="0.9" />
<line x1="217.36" y1="423.5" x2="217.36" y2="424.9" stroke="#333" stroke-width="0.9" />
<line x1="230.54" y1="423.5" x2="230.54" y2="425.7" stroke="#333" stroke-width="0.9" />
<line x1="243.72" y1="423.5" x2="243.72" y2="424.9" stroke="#333" stroke-width="0.9" />
<line x1="256.89" y1="423.5" x2="256.89" y2="424.9" stroke="#333" stroke-width="0.9" />
<line x1="270.07" y1="423.5" x2="270.07" y2="424.9" stroke="#333" stroke-width="0.9" />
<line x1="283.24" y1="423.5" x2="283.24" y2="424.9" stroke="#333" stroke-width="0.9" />
<line x1="296.42" y1="423.5" x2="296.42" y2="425.7" stroke="#333" stroke-width="0.9" />
<line x1="309.6" y1="423.5" x2="309.6" y2="424.9" stroke="#333" stroke-width="0.9" />
<line x1="315.5" y1="559.11" x2="313.9" y2="559.11" stroke="#333" stroke-width="0.9" />
<line x1="315.5" y1="553.8" x2="313.9" y2="553.8" stroke="#333" stroke-width="0.9" />
<line x1="315.5" y1="548.5" x2="313" y2="548.5" stroke="#333" stroke-width="0.9" />
<line x1="315.5" y1="543.2" x2="313.9" y2="543.2" stroke="#333" stroke-width="0.9" />
<line x1="315.5" y1="537.89" x2="313.9" y2="537.89" stroke="#333" stroke-width="0.9" />
<line x1="315.5" y1="532.59" x2="313.9" y2="532.59" stroke="#333" stroke-width="0.9" />
<line x1="315.5" y1="527.28" x2="313" y2="527.28" stroke="#333" stroke-width="0.9" />
<line x1="315.5" y1="521.98" x2="313.9" y2="521.98" stroke="#333" stroke-width="0.9" />
<line x1="315.5" y1="516.67" x2="313.9" y2="516.67" stroke="#333" stroke-width="0.9" />
<line x1="315.5" y1="511.37" x2="313.9" y2="511.37" stroke="#333" stroke-width="0.9" />
<line x1="315.5" y1="506.06" x2="313" y2="506.06" stroke="#333" stroke-width="0.9" />
<line x1="315.5" y1="500.75" x2="313.9" y2="500.75" stroke="#333" stroke-width="0.9" />
<line x1="315.5" y1="495.45" x2="313.9" y2="495.45" stroke="#333" stroke-width="0.9" />
<line x1="315.5" y1="490.14" x2="313.9" y2="490.14" stroke="#333" stroke-width="0.9" />
<line x1="315.5" y1="484.84" x2="313" y2="484.84" stroke="#333" stroke-width="0.9" />
<line x1="315.5" y1="479.53" x2="313.9" y2="479.53" stroke="#333" stroke-width="0.9" />
<line x1="315.5" y1="474.23" x2="313.9" y2="474.23" stroke="#333" stroke-width="0.9" />
<line x1="315.5" y1="468.93" x2="313.9" y2="468.93" stroke="#333" stroke-width="0.9" />
<line x1="315.5" y1="463.62" x2="313" y2="463.62" stroke="#333" stroke-width="0.9" />
<line x1="315.5" y1="458.31" x2="313.9" y2="458.31" stroke="#333" stroke-width="0.9" />
<line x1="315.5" y1="453.01" x2="313.9" y2="453.01" stroke="#333" stroke-width="0.9" />
<line x1="315.5" y1="447.7" x2="313.9" y2="447.7" stroke="#333" stroke-width="0.9" />
<line x1="315.5" y1="442.4" x2="313" y2="442.4" stroke="#333" stroke-width="0.9" />
<line x1="315.5" y1="437.1" x2="313.9" y2="437.1" stroke="#333" stroke-width="0.9" />
<line x1="315.5" y1="431.79" x2="313.9" y2="431.79" stroke="#333" stroke-width="0.9" />
<line x1="315.5" y1="426.49" x2="313.9" y2="426.49" stroke="#333" stroke-width="0.9" />
<path d="M39.49,552.74 L46.08,550.24 L52.66,549.54 L59.25,549.12 L65.84,549.11 L72.43,549.15 L79.02,548.69 L85.6,548.59 L92.19,548.9 L98.78,548.79 L105.37,548.38 L111.96,547.55 L118.54,545.35 L125.13,540.77 L131.72,533.56 L138.31,524.06 L144.9,512.91 L151.48,501.14 L158.07,489.67 L164.66,479.2 L171.25,470.08 L177.84,462.44 L184.42,456.2 L191.01,451.22 L197.6,447.31 L204.19,444.27 L210.78,441.93 L217.36,440.14 L223.95,438.79 L230.54,437.76 L237.13,436.98 L243.72,436.39 L250.3,435.95 L256.89,435.62 L263.48,435.37 L270.07,435.19 L276.66,435.05 L283.24,434.94 L289.83,434.86 L296.42,434.8 L303.01,434.76" stroke="#4a8a52" stroke-width="1.1" fill="none" stroke-linejoin="round"/>
<path d="M39.49,555.93 L46.08,550.71 L52.66,548.85 L59.25,548.42 L65.84,548.43 L72.43,548.38 L79.02,548.44 L85.6,548.64 L92.19,548.69 L98.78,548.45 L105.37,548.22 L111.96,548.17 L118.54,548.51 L125.13,548.64 L131.72,547.55 L138.31,545.48 L144.9,541.85 L151.48,535.38 L158.07,526.15 L164.66,514.9 L171.25,502.67 L177.84,490.49 L184.42,479.18 L191.01,469.19 L197.6,460.74 L204.19,453.78 L210.78,448.2 L217.36,443.8 L223.95,440.37 L230.54,437.72 L237.13,435.69 L243.72,434.15 L250.3,432.98 L256.89,432.1 L263.48,431.43 L270.07,430.93 L276.66,430.55 L283.24,430.27 L289.83,430.05 L296.42,429.89 L303.01,429.77" stroke="#4a8a52" stroke-width="1.1" fill="none" stroke-linejoin="round"/>
<path d="M39.49,558.05 L46.08,551.48 L52.66,549.05 L59.25,548.6 L65.84,548.91 L72.43,549.08 L79.02,549 L85.6,548.69 L92.19,548.76 L98.78,549.01 L105.37,548.87 L111.96,548.61 L118.54,548.37 L125.13,548.23 L131.72,548.27 L138.31,548.63 L144.9,548.69 L151.48,547.94 L158.07,546.4 L164.66,543.49 L171.25,537.98 L177.84,529.67 L184.42,519.2 L191.01,507.46 L197.6,495.49 L204.19,484.15 L210.78,474 L217.36,465.31 L223.95,458.1 L230.54,452.28 L237.13,447.67 L243.72,444.06 L250.3,441.27 L256.89,439.13 L263.48,437.5 L270.07,436.26 L276.66,435.32 L283.24,434.62 L289.83,434.08 L296.42,433.68 L303.01,433.38" stroke="#4a8a52" stroke-width="1.1" fill="none" stroke-linejoin="round"/>
<path d="M39.49,554.87 L46.08,550.32 L52.66,549.21 L59.25,549.06 L65.84,548.91 L72.43,548.65 L79.02,548.55 L85.6,548.58 L92.19,548.66 L98.78,548.72 L105.37,548.71 L111.96,548.77 L118.54,548.48 L125.13,548.01 L131.72,547.73 L138.31,547.93 L144.9,548.38 L151.48,548.15 L158.07,547.77 L164.66,547.95 L171.25,547.98 L177.84,546.78 L184.42,544.37 L191.01,539.93 L197.6,532.58 L204.19,522.86 L210.78,511.56 L217.36,499.72 L223.95,488.27 L230.54,477.87 L237.13,468.85 L243.72,461.31 L250.3,455.18 L256.89,450.29 L263.48,446.46 L270.07,443.48 L276.66,441.19 L283.24,439.45 L289.83,438.12 L296.42,437.11 L303.01,436.35" stroke="#4a8a52" stroke-width="1.1" fill="none" stroke-linejoin="round"/>
<path d="M39.49,560.17 L46.08,551.64 L52.66,549.35 L59.25,548.47 L65.84,548.4 L72.43,548.46 L79.02,548.31 L85.6,548.78 L92.19,548.81 L98.78,548.36 L105.37,548.55 L111.96,548.34 L118.54,547.98 L125.13,548.45 L131.72,548.71 L138.31,548.55 L144.9,548.86 L151.48,549.06 L158.07,548.57 L164.66,548.15 L171.25,548.05 L177.84,548.15 L184.42,548.37 L191.01,548.39 L197.6,547.69 L204.19,545.43 L210.78,541.24 L217.36,534.65 L223.95,525.61 L230.54,514.84 L237.13,503.35 L243.72,492.07 L250.3,481.71 L256.89,472.66 L263.48,465.04 L270.07,458.81 L276.66,453.83 L283.24,449.91 L289.83,446.86 L296.42,444.51 L303.01,442.72" stroke="#4a8a52" stroke-width="1.1" fill="none" stroke-linejoin="round"/>
<path d="M39.49,556.99 L46.08,550.96 L52.66,549.01 L59.25,548.11 L65.84,548 L72.43,548.41 L79.02,548.53 L85.6,548.37 L92.19,548.63 L98.78,548.75 L105.37,548.24 L111.96,548.03 L118.54,548.3 L125.13,548.39 L131.72,548.22 L138.31,548.34 L144.9,548.68 L151.48,548.81 L158.07,548.64 L164.66,548.47 L171.25,548.37 L177.84,548.23 L184.42,548.11 L191.01,548.11 L197.6,548.49 L204.19,548.69 L210.78,548.24 L217.36,547.31 L223.95,545.74 L230.54,542.85 L237.13,537.36 L243.72,529.22 L250.3,519.21 L256.89,508.22 L263.48,497.18 L270.07,486.86 L276.66,477.71 L283.24,469.93 L289.83,463.52 L296.42,458.36 L303.01,454.28" stroke="#4a8a52" stroke-width="1.1" fill="none" stroke-linejoin="round"/>
<path d="M39.49,553.8 L46.08,550.24 L52.66,549.34 L59.25,549.38 L65.84,549.16 L72.43,548.65 L79.02,548.35 L85.6,548.36 L92.19,548.49 L98.78,548.78 L105.37,548.76 L111.96,548.37 L118.54,548.27 L125.13,548.29 L131.72,548.3 L138.31,548.57 L144.9,548.54 L151.48,548.1 L158.07,547.97 L164.66,548.1 L171.25,548.18 L177.84,548.38 L184.42,548.48 L191.01,548.63 L197.6,548.78 L204.19,548.48 L210.78,548.26 L217.36,548.38 L223.95,548.2 L230.54,547.67 L237.13,546.52 L243.72,543.28 L250.3,537.39 L256.89,528.95 L263.48,518.45 L270.07,506.8 L276.66,495.01 L283.24,483.91 L289.83,474.03 L296.42,465.6 L303.01,458.63" stroke="#4a8a52" stroke-width="1.1" fill="none" stroke-linejoin="round"/>
<path d="M39.49,559.11 L46.08,551.27 L52.66,549.65 L59.25,548.63 L65.84,548.3 L72.43,548.46 L79.02,548.49 L85.6,548.47 L92.19,548.67 L98.78,548.73 L105.37,548.63 L111.96,548.64 L118.54,548.63 L125.13,548.68 L131.72,548.6 L138.31,548.27 L144.9,548.17 L151.48,548.59 L158.07,548.88 L164.66,548.81 L171.25,548.77 L177.84,548.61 L184.42,548.31 L191.01,548.04 L197.6,548.07 L204.19,548.12 L210.78,547.74 L217.36,547.75 L223.95,548.49 L230.54,548.91 L237.13,548.65 L243.72,548.58 L250.3,548.52 L256.89,547.4 L263.48,545.02 L270.07,540.57 L276.66,533.47 L283.24,523.98 L289.83,512.81 L296.42,501 L303.01,489.51" stroke="#4a8a52" stroke-width="1.1" fill="none" stroke-linejoin="round"/>
<path d="M39.49,551.68 L46.08,550.03 L52.66,549.18 L59.25,548.55 L65.84,548.76 L72.43,549.18 L79.02,549.07 L85.6,548.67 L92.19,548.58 L98.78,548.55 L105.37,548.51 L111.96,548.7 L118.54,548.92 L125.13,549.3 L131.72,549.65 L138.31,549.4 L144.9,548.94 L151.48,548.76 L158.07,548.7 L164.66,548.72 L171.25,548.65 L177.84,548.67 L184.42,548.89 L191.01,549.07 L197.6,549.02 L204.19,548.71 L210.78,548.59 L217.36,548.49 L223.95,548.27 L230.54,548.38 L237.13,548.57 L243.72,548.74 L250.3,548.92 L256.89,548.8 L263.48,548.85 L270.07,548.94 L276.66,548.72 L283.24,548.69 L289.83,548.73 L296.42,548.67 L303.01,548.45" stroke="#4a8a52" stroke-width="1.1" fill="none" stroke-linejoin="round"/>
<line x1="39.49" y1="542.66" x2="303.01" y2="542.66" stroke="#2b6833" stroke-width="2.2" />
<line x1="33.5" y1="422.9" x2="33.5" y2="565.7" stroke="#9a9a9a" stroke-width="1.6" />
<line x1="34.3" y1="563.5" x2="316" y2="563.5" stroke="#555" stroke-width="1.4" />
<line x1="33.5" y1="559.11" x2="36" y2="559.11" stroke="#222" stroke-width="1" />
<line x1="33.5" y1="553.8" x2="36" y2="553.8" stroke="#222" stroke-width="1" />
<line x1="31" y1="548.5" x2="36.5" y2="548.5" stroke="#222" stroke-width="1" />
<line x1="33.5" y1="543.2" x2="36" y2="543.2" stroke="#222" stroke-width="1" />
<line x1="33.5" y1="537.89" x2="36" y2="537.89" stroke="#222" stroke-width="1" />
<line x1="33.5" y1="532.59" x2="36" y2="532.59" stroke="#222" stroke-width="1" />
<line x1="31" y1="527.28" x2="36.5" y2="527.28" stroke="#222" stroke-width="1" />
<line x1="33.5" y1="521.98" x2="36" y2="521.98" stroke="#222" stroke-width="1" />
<line x1="33.5" y1="516.67" x2="36" y2="516.67" stroke="#222" stroke-width="1" />
<line x1="33.5" y1="511.37" x2="36" y2="511.37" stroke="#222" stroke-width="1" />
<line x1="31" y1="506.06" x2="36.5" y2="506.06" stroke="#222" stroke-width="1" />
<line x1="33.5" y1="500.75" x2="36" y2="500.75" stroke="#222" stroke-width="1" />
<line x1="33.5" y1="495.45" x2="36" y2="495.45" stroke="#222" stroke-width="1" />
<line x1="33.5" y1="490.14" x2="36" y2="490.14" stroke="#222" stroke-width="1" />
<line x1="31" y1="484.84" x2="36.5" y2="484.84" stroke="#222" stroke-width="1" />
<line x1="33.5" y1="479.53" x2="36" y2="479.53" stroke="#222" stroke-width="1" />
<line x1="33.5" y1="474.23" x2="36" y2="474.23" stroke="#222" stroke-width="1" />
<line x1="33.5" y1="468.93" x2="36" y2="468.93" stroke="#222" stroke-width="1" />
<line x1="31" y1="463.62" x2="36.5" y2="463.62" stroke="#222" stroke-width="1" />
<line x1="33.5" y1="458.31" x2="36" y2="458.31" stroke="#222" stroke-width="1" />
<line x1="33.5" y1="453.01" x2="36" y2="453.01" stroke="#222" stroke-width="1" />
<line x1="33.5" y1="447.7" x2="36" y2="447.7" stroke="#222" stroke-width="1" />
<line x1="31" y1="442.4" x2="36.5" y2="442.4" stroke="#222" stroke-width="1" />
<line x1="33.5" y1="437.1" x2="36" y2="437.1" stroke="#222" stroke-width="1" />
<line x1="33.5" y1="431.79" x2="36" y2="431.79" stroke="#222" stroke-width="1" />
<line x1="33.5" y1="426.49" x2="36" y2="426.49" stroke="#222" stroke-width="1" />
<line x1="46.08" y1="562.3" x2="46.08" y2="565.1" stroke="#2a2a2a" stroke-width="1" />
<line x1="59.25" y1="562.3" x2="59.25" y2="565.1" stroke="#2a2a2a" stroke-width="1" />
<line x1="72.43" y1="562.3" x2="72.43" y2="565.1" stroke="#2a2a2a" stroke-width="1" />
<line x1="85.6" y1="562.3" x2="85.6" y2="565.1" stroke="#2a2a2a" stroke-width="1" />
<line x1="98.78" y1="561" x2="98.78" y2="566" stroke="#222" stroke-width="1" />
<line x1="111.96" y1="562.3" x2="111.96" y2="565.1" stroke="#2a2a2a" stroke-width="1" />
<line x1="125.13" y1="562.3" x2="125.13" y2="565.1" stroke="#2a2a2a" stroke-width="1" />
<line x1="138.31" y1="562.3" x2="138.31" y2="565.1" stroke="#2a2a2a" stroke-width="1" />
<line x1="151.48" y1="562.3" x2="151.48" y2="565.1" stroke="#2a2a2a" stroke-width="1" />
<line x1="164.66" y1="561" x2="164.66" y2="566" stroke="#222" stroke-width="1" />
<line x1="177.84" y1="562.3" x2="177.84" y2="565.1" stroke="#2a2a2a" stroke-width="1" />
<line x1="191.01" y1="562.3" x2="191.01" y2="565.1" stroke="#2a2a2a" stroke-width="1" />
<line x1="204.19" y1="562.3" x2="204.19" y2="565.1" stroke="#2a2a2a" stroke-width="1" />
<line x1="217.36" y1="562.3" x2="217.36" y2="565.1" stroke="#2a2a2a" stroke-width="1" />
<line x1="230.54" y1="561" x2="230.54" y2="566" stroke="#222" stroke-width="1" />
<line x1="243.72" y1="562.3" x2="243.72" y2="565.1" stroke="#2a2a2a" stroke-width="1" />
<line x1="256.89" y1="562.3" x2="256.89" y2="565.1" stroke="#2a2a2a" stroke-width="1" />
<line x1="270.07" y1="562.3" x2="270.07" y2="565.1" stroke="#2a2a2a" stroke-width="1" />
<line x1="283.24" y1="562.3" x2="283.24" y2="565.1" stroke="#2a2a2a" stroke-width="1" />
<line x1="296.42" y1="561" x2="296.42" y2="566" stroke="#222" stroke-width="1" />
<line x1="309.6" y1="562.3" x2="309.6" y2="565.1" stroke="#2a2a2a" stroke-width="1" />
<text x="27" y="444.4" font-size="7.8" text-anchor="end" fill="#222" stroke="#222" stroke-width="0.18" textLength="16.2" lengthAdjust="spacingAndGlyphs">1000</text>
<text x="27" y="465.62" font-size="7.8" text-anchor="end" fill="#222" stroke="#222" stroke-width="0.18" textLength="12.15" lengthAdjust="spacingAndGlyphs">800</text>
<text x="27" y="486.84" font-size="7.8" text-anchor="end" fill="#222" stroke="#222" stroke-width="0.18" textLength="12.15" lengthAdjust="spacingAndGlyphs">600</text>
<text x="27" y="508.06" font-size="7.8" text-anchor="end" fill="#222" stroke="#222" stroke-width="0.18" textLength="12.15" lengthAdjust="spacingAndGlyphs">400</text>
<text x="27" y="529.28" font-size="7.8" text-anchor="end" fill="#222" stroke="#222" stroke-width="0.18" textLength="12.15" lengthAdjust="spacingAndGlyphs">200</text>
<text x="27" y="550.5" font-size="7.8" text-anchor="end" fill="#222" stroke="#222" stroke-width="0.18" textLength="4.05" lengthAdjust="spacingAndGlyphs">0</text>
<text x="29.7" y="573.3" font-size="7.6" text-anchor="middle" fill="#222" stroke="#222" stroke-width="0.15" textLength="4.1" lengthAdjust="spacingAndGlyphs">0</text>
<text x="95.38" y="573.3" font-size="7.6" text-anchor="middle" fill="#222" stroke="#222" stroke-width="0.15" textLength="8.2" lengthAdjust="spacingAndGlyphs">10</text>
<text x="162.66" y="573.3" font-size="7.6" text-anchor="middle" fill="#222" stroke="#222" stroke-width="0.15" textLength="8.2" lengthAdjust="spacingAndGlyphs">20</text>
<text x="229.34" y="573.3" font-size="7.6" text-anchor="middle" fill="#222" stroke="#222" stroke-width="0.15" textLength="8.2" lengthAdjust="spacingAndGlyphs">30</text>
<text x="295.72" y="573.3" font-size="7.6" text-anchor="middle" fill="#222" stroke="#222" stroke-width="0.15" textLength="8.2" lengthAdjust="spacingAndGlyphs">40</text>
<text x="158.3" y="415.3" font-size="7.3" text-anchor="middle" fill="#111" stroke="#111" stroke-width="0.2" font-weight="bold" textLength="43.6" lengthAdjust="spacingAndGlyphs">Amplification</text>
<text x="172.8" y="585.7" font-size="7" text-anchor="middle" fill="#111" stroke="#111" stroke-width="0.2" font-weight="bold" textLength="19.8" lengthAdjust="spacingAndGlyphs">Cycles</text>
<text x="5.8" y="492.5" font-size="6.6" text-anchor="middle" fill="#111" font-weight="bold" textLength="12.5" lengthAdjust="spacingAndGlyphs" transform="rotate(-90 5.8 492.5)">RFU</text>
<line x1="465.5" y1="426" x2="465.5" y2="562.5" stroke="#8a8a8a" stroke-width="1" stroke-dasharray="1 3"/>
<line x1="531.5" y1="426" x2="531.5" y2="562.5" stroke="#8a8a8a" stroke-width="1" stroke-dasharray="1 3"/>
<line x1="598.5" y1="426" x2="598.5" y2="562.5" stroke="#8a8a8a" stroke-width="1" stroke-dasharray="1 3"/>
<line x1="664.5" y1="426" x2="664.5" y2="562.5" stroke="#8a8a8a" stroke-width="1" stroke-dasharray="1 3"/>
<line x1="404" y1="433.5" x2="682.5" y2="433.5" stroke="#8a8a8a" stroke-width="1" stroke-dasharray="1 3"/>
<line x1="404" y1="454.5" x2="682.5" y2="454.5" stroke="#8a8a8a" stroke-width="1" stroke-dasharray="1 3"/>
<line x1="404" y1="474.5" x2="682.5" y2="474.5" stroke="#8a8a8a" stroke-width="1" stroke-dasharray="1 3"/>
<line x1="404" y1="495.5" x2="682.5" y2="495.5" stroke="#8a8a8a" stroke-width="1" stroke-dasharray="1 3"/>
<line x1="404" y1="516.5" x2="682.5" y2="516.5" stroke="#8a8a8a" stroke-width="1" stroke-dasharray="1 3"/>
<line x1="404" y1="536.5" x2="682.5" y2="536.5" stroke="#8a8a8a" stroke-width="1" stroke-dasharray="1 3"/>
<line x1="404" y1="557.5" x2="682.5" y2="557.5" stroke="#8a8a8a" stroke-width="1" stroke-dasharray="1 3"/>
<line x1="399.5" y1="424.5" x2="683.5" y2="424.5" stroke="#999" stroke-width="1.5" />
<line x1="683.5" y1="424.5" x2="683.5" y2="563.5" stroke="#999" stroke-width="1.5" />
<line x1="412.37" y1="424.5" x2="412.37" y2="425.9" stroke="#333" stroke-width="0.9" />
<line x1="425.65" y1="424.5" x2="425.65" y2="425.9" stroke="#333" stroke-width="0.9" />
<line x1="438.92" y1="424.5" x2="438.92" y2="425.9" stroke="#333" stroke-width="0.9" />
<line x1="452.2" y1="424.5" x2="452.2" y2="425.9" stroke="#333" stroke-width="0.9" />
<line x1="465.47" y1="424.5" x2="465.47" y2="426.7" stroke="#333" stroke-width="0.9" />
<line x1="478.74" y1="424.5" x2="478.74" y2="425.9" stroke="#333" stroke-width="0.9" />
<line x1="492.02" y1="424.5" x2="492.02" y2="425.9" stroke="#333" stroke-width="0.9" />
<line x1="505.29" y1="424.5" x2="505.29" y2="425.9" stroke="#333" stroke-width="0.9" />
<line x1="518.57" y1="424.5" x2="518.57" y2="425.9" stroke="#333" stroke-width="0.9" />
<line x1="531.84" y1="424.5" x2="531.84" y2="426.7" stroke="#333" stroke-width="0.9" />
<line x1="545.11" y1="424.5" x2="545.11" y2="425.9" stroke="#333" stroke-width="0.9" />
<line x1="558.39" y1="424.5" x2="558.39" y2="425.9" stroke="#333" stroke-width="0.9" />
<line x1="571.66" y1="424.5" x2="571.66" y2="425.9" stroke="#333" stroke-width="0.9" />
<line x1="584.94" y1="424.5" x2="584.94" y2="425.9" stroke="#333" stroke-width="0.9" />
<line x1="598.21" y1="424.5" x2="598.21" y2="426.7" stroke="#333" stroke-width="0.9" />
<line x1="611.48" y1="424.5" x2="611.48" y2="425.9" stroke="#333" stroke-width="0.9" />
<line x1="624.76" y1="424.5" x2="624.76" y2="425.9" stroke="#333" stroke-width="0.9" />
<line x1="638.03" y1="424.5" x2="638.03" y2="425.9" stroke="#333" stroke-width="0.9" />
<line x1="651.31" y1="424.5" x2="651.31" y2="425.9" stroke="#333" stroke-width="0.9" />
<line x1="664.58" y1="424.5" x2="664.58" y2="426.7" stroke="#333" stroke-width="0.9" />
<line x1="677.85" y1="424.5" x2="677.85" y2="425.9" stroke="#333" stroke-width="0.9" />
<line x1="683.5" y1="562.69" x2="681.9" y2="562.69" stroke="#333" stroke-width="0.9" />
<line x1="683.5" y1="557.52" x2="681" y2="557.52" stroke="#333" stroke-width="0.9" />
<line x1="683.5" y1="552.36" x2="681.9" y2="552.36" stroke="#333" stroke-width="0.9" />
<line x1="683.5" y1="547.19" x2="681.9" y2="547.19" stroke="#333" stroke-width="0.9" />
<line x1="683.5" y1="542.03" x2="681.9" y2="542.03" stroke="#333" stroke-width="0.9" />
<line x1="683.5" y1="536.86" x2="681" y2="536.86" stroke="#333" stroke-width="0.9" />
<line x1="683.5" y1="531.7" x2="681.9" y2="531.7" stroke="#333" stroke-width="0.9" />
<line x1="683.5" y1="526.53" x2="681.9" y2="526.53" stroke="#333" stroke-width="0.9" />
<line x1="683.5" y1="521.37" x2="681.9" y2="521.37" stroke="#333" stroke-width="0.9" />
<line x1="683.5" y1="516.2" x2="681" y2="516.2" stroke="#333" stroke-width="0.9" />
<line x1="683.5" y1="511.04" x2="681.9" y2="511.04" stroke="#333" stroke-width="0.9" />
<line x1="683.5" y1="505.87" x2="681.9" y2="505.87" stroke="#333" stroke-width="0.9" />
<line x1="683.5" y1="500.71" x2="681.9" y2="500.71" stroke="#333" stroke-width="0.9" />
<line x1="683.5" y1="495.54" x2="681" y2="495.54" stroke="#333" stroke-width="0.9" />
<line x1="683.5" y1="490.38" x2="681.9" y2="490.38" stroke="#333" stroke-width="0.9" />
<line x1="683.5" y1="485.21" x2="681.9" y2="485.21" stroke="#333" stroke-width="0.9" />
<line x1="683.5" y1="480.05" x2="681.9" y2="480.05" stroke="#333" stroke-width="0.9" />
<line x1="683.5" y1="474.88" x2="681" y2="474.88" stroke="#333" stroke-width="0.9" />
<line x1="683.5" y1="469.72" x2="681.9" y2="469.72" stroke="#333" stroke-width="0.9" />
<line x1="683.5" y1="464.55" x2="681.9" y2="464.55" stroke="#333" stroke-width="0.9" />
<line x1="683.5" y1="459.39" x2="681.9" y2="459.39" stroke="#333" stroke-width="0.9" />
<line x1="683.5" y1="454.22" x2="681" y2="454.22" stroke="#333" stroke-width="0.9" />
<line x1="683.5" y1="449.06" x2="681.9" y2="449.06" stroke="#333" stroke-width="0.9" />
<line x1="683.5" y1="443.89" x2="681.9" y2="443.89" stroke="#333" stroke-width="0.9" />
<line x1="683.5" y1="438.73" x2="681.9" y2="438.73" stroke="#333" stroke-width="0.9" />
<line x1="683.5" y1="433.56" x2="681" y2="433.56" stroke="#333" stroke-width="0.9" />
<line x1="683.5" y1="428.4" x2="681.9" y2="428.4" stroke="#333" stroke-width="0.9" />
<path d="M405.74,561.65 L412.37,526.48 L419.01,523.72 L425.65,521.72 L432.29,520.32 L438.92,519.12 L445.56,518.26 L452.2,517.65 L458.83,516.91 L465.47,516.37 L472.11,516.17 L478.74,515.59 L485.38,514.48 L492.02,512.46 L498.66,508.51 L505.29,501.6 L511.93,491.52 L518.57,479.44 L525.2,467.42 L531.84,457.22 L538.48,449.57 L545.11,444.27 L551.75,440.78 L558.39,438.5 L565.02,437.02 L571.66,436.01 L578.3,435.3 L584.94,434.75 L591.57,434.31 L598.21,433.93 L604.85,433.59 L611.48,433.26 L618.12,432.95 L624.76,432.65 L631.39,432.34 L638.03,432.05 L644.67,431.75 L651.31,431.45 L657.94,431.16 L664.58,430.86 L671.22,430.56" stroke="#ff3030" stroke-width="1.1" fill="none" stroke-linejoin="round"/>
<path d="M405.74,546.16 L412.37,524.99 L419.01,522.63 L425.65,520.86 L432.29,519.66 L438.92,519.13 L445.56,518.5 L452.2,517.62 L458.83,517.15 L465.47,516.84 L472.11,516.55 L478.74,516.35 L485.38,516.23 L492.02,516.66 L498.66,516.72 L505.29,515.68 L511.93,514.09 L518.57,511.71 L525.2,507.41 L531.84,500.1 L538.48,490.06 L545.11,478.69 L551.75,467.95 L558.39,459.2 L565.02,452.83 L571.66,448.49 L578.3,445.65 L584.94,443.81 L591.57,442.6 L598.21,441.77 L604.85,441.17 L611.48,440.7 L618.12,440.32 L624.76,439.98 L631.39,439.67 L638.03,439.38 L644.67,439.1 L651.31,438.82 L657.94,438.55 L664.58,438.27 L671.22,438" stroke="#ff3030" stroke-width="1.1" fill="none" stroke-linejoin="round"/>
<path d="M405.74,539.13 L412.37,523.45 L419.01,520.52 L425.65,519.13 L432.29,518.22 L438.92,517.25 L445.56,516.78 L452.2,516.59 L458.83,516.39 L465.47,516.45 L472.11,516.72 L478.74,516.55 L485.38,515.93 L492.02,515.63 L498.66,515.75 L505.29,515.75 L511.93,515.54 L518.57,515.4 L525.2,515.25 L531.84,514.67 L538.48,513.55 L545.11,511.05 L551.75,506.13 L558.39,498.28 L565.02,487.82 L571.66,476.41 L578.3,465.98 L584.94,457.71 L591.57,451.77 L598.21,447.78 L604.85,445.18 L611.48,443.49 L618.12,442.37 L624.76,441.6 L631.39,441.04 L638.03,440.6 L644.67,440.23 L651.31,439.9 L657.94,439.6 L664.58,439.31 L671.22,439.03" stroke="#ff3030" stroke-width="1.1" fill="none" stroke-linejoin="round"/>
<path d="M405.74,535.83 L412.37,522.08 L419.01,519.67 L425.65,518.72 L432.29,518.19 L438.92,517.56 L445.56,517.12 L452.2,516.9 L458.83,516.67 L465.47,516.39 L472.11,516.18 L478.74,516.21 L485.38,516.42 L492.02,516.26 L498.66,515.81 L505.29,515.63 L511.93,515.67 L518.57,515.91 L525.2,516.15 L531.84,516 L538.48,515.78 L545.11,515.61 L551.75,515.24 L558.39,514.28 L565.02,512.09 L571.66,507.96 L578.3,500.97 L584.94,491.13 L591.57,479.79 L598.21,468.89 L604.85,459.9 L611.48,453.28 L618.12,448.77 L624.76,445.8 L631.39,443.88 L638.03,442.62 L644.67,441.76 L651.31,441.15 L657.94,440.68 L664.58,440.3 L671.22,439.96" stroke="#ff3030" stroke-width="1.1" fill="none" stroke-linejoin="round"/>
<path d="M405.74,529.32 L412.37,516.89 L419.01,515 L425.65,515.7 L432.29,515.68 L438.92,515.88 L445.56,516.12 L452.2,516.06 L458.83,515.86 L465.47,515.74 L472.11,515.93 L478.74,516.06 L485.38,515.94 L492.02,516.15 L498.66,516.4 L505.29,516.39 L511.93,516.33 L518.57,516.29 L525.2,516.08 L531.84,515.69 L538.48,515.46 L545.11,515.3 L551.75,515.25 L558.39,515.5 L565.02,515.79 L571.66,515.67 L578.3,514.76 L584.94,512.78 L591.57,509.31 L598.21,503.23 L604.85,494.06 L611.48,482.74 L618.12,471.17 L624.76,461.16 L631.39,453.54 L638.03,448.22 L644.67,444.7 L651.31,442.42 L657.94,440.93 L664.58,439.94 L671.22,439.24" stroke="#ff3030" stroke-width="1.1" fill="none" stroke-linejoin="round"/>
<path d="M405.74,538.93 L412.37,525.74 L419.01,523.56 L425.65,521.3 L432.29,519.86 L438.92,518.96 L445.56,518.07 L452.2,517.21 L458.83,516.84 L465.47,516.6 L472.11,516.42 L478.74,516.65 L485.38,516.84 L492.02,516.62 L498.66,516.16 L505.29,515.94 L511.93,516.08 L518.57,515.98 L525.2,515.79 L531.84,515.67 L538.48,515.66 L545.11,515.79 L551.75,515.94 L558.39,516.04 L565.02,515.88 L571.66,515.95 L578.3,516.42 L584.94,516.45 L591.57,515.79 L598.21,514.63 L604.85,512.72 L611.48,509.66 L618.12,504 L624.76,495.09 L631.39,483.86 L638.03,472.17 L644.67,461.89 L651.31,453.99 L657.94,448.43 L664.58,444.74 L671.22,442.34" stroke="#ff3030" stroke-width="1.1" fill="none" stroke-linejoin="round"/>
<path d="M405.74,535.83 L412.37,522.55 L419.01,520.27 L425.65,518.99 L432.29,518.12 L438.92,517.34 L445.56,516.59 L452.2,516.38 L458.83,516.46 L465.47,516.54 L472.11,516.46 L478.74,516.41 L485.38,516.59 L492.02,516.58 L498.66,516.16 L505.29,516.04 L511.93,516.34 L518.57,516.42 L525.2,516.31 L531.84,516.14 L538.48,516.22 L545.11,516.62 L551.75,516.6 L558.39,516.22 L565.02,516.07 L571.66,516.03 L578.3,515.93 L584.94,515.68 L591.57,515.48 L598.21,515.69 L604.85,515.83 L611.48,515.25 L618.12,513.89 L624.76,511.68 L631.39,507.35 L638.03,499.76 L644.67,489.12 L651.31,476.85 L657.94,465.04 L664.58,455.3 L671.22,448.13" stroke="#ff3030" stroke-width="1.1" fill="none" stroke-linejoin="round"/>
<path d="M405.74,547.19 L412.37,523.93 L419.01,522.1 L425.65,520.74 L432.29,519.3 L438.92,518.15 L445.56,517.48 L452.2,516.71 L458.83,516.42 L465.47,516.29 L472.11,515.8 L478.74,516.07 L485.38,516.34 L492.02,516.32 L498.66,516.54 L505.29,516.38 L511.93,516.25 L518.57,516.29 L525.2,516.26 L531.84,516.31 L538.48,516.48 L545.11,516.54 L551.75,516.08 L558.39,515.53 L565.02,515.59 L571.66,516.01 L578.3,516.12 L584.94,516 L591.57,516.14 L598.21,516.56 L604.85,516.58 L611.48,516.03 L618.12,515.94 L624.76,516.31 L631.39,516.19 L638.03,516.01 L644.67,516.13 L651.31,516.48 L657.94,516.49 L664.58,516.16 L671.22,516.26" stroke="#ff3030" stroke-width="1.1" fill="none" stroke-linejoin="round"/>
<line x1="405.74" y1="511.86" x2="671.22" y2="511.86" stroke="#ff1010" stroke-width="1.9" />
<line x1="399.5" y1="423.9" x2="399.5" y2="565.7" stroke="#333" stroke-width="1.1" />
<line x1="400.3" y1="563.5" x2="684" y2="563.5" stroke="#333" stroke-width="1.3" />
<line x1="399.5" y1="562.69" x2="402" y2="562.69" stroke="#222" stroke-width="1" />
<line x1="397" y1="557.52" x2="402.5" y2="557.52" stroke="#222" stroke-width="1" />
<line x1="399.5" y1="552.36" x2="402" y2="552.36" stroke="#222" stroke-width="1" />
<line x1="399.5" y1="547.19" x2="402" y2="547.19" stroke="#222" stroke-width="1" />
<line x1="399.5" y1="542.03" x2="402" y2="542.03" stroke="#222" stroke-width="1" />
<line x1="397" y1="536.86" x2="402.5" y2="536.86" stroke="#222" stroke-width="1" />
<line x1="399.5" y1="531.7" x2="402" y2="531.7" stroke="#222" stroke-width="1" />
<line x1="399.5" y1="526.53" x2="402" y2="526.53" stroke="#222" stroke-width="1" />
<line x1="399.5" y1="521.37" x2="402" y2="521.37" stroke="#222" stroke-width="1" />
<line x1="397" y1="516.2" x2="402.5" y2="516.2" stroke="#222" stroke-width="1" />
<line x1="399.5" y1="511.04" x2="402" y2="511.04" stroke="#222" stroke-width="1" />
<line x1="399.5" y1="505.87" x2="402" y2="505.87" stroke="#222" stroke-width="1" />
<line x1="399.5" y1="500.71" x2="402" y2="500.71" stroke="#222" stroke-width="1" />
<line x1="397" y1="495.54" x2="402.5" y2="495.54" stroke="#222" stroke-width="1" />
<line x1="399.5" y1="490.38" x2="402" y2="490.38" stroke="#222" stroke-width="1" />
<line x1="399.5" y1="485.21" x2="402" y2="485.21" stroke="#222" stroke-width="1" />
<line x1="399.5" y1="480.05" x2="402" y2="480.05" stroke="#222" stroke-width="1" />
<line x1="397" y1="474.88" x2="402.5" y2="474.88" stroke="#222" stroke-width="1" />
<line x1="399.5" y1="469.72" x2="402" y2="469.72" stroke="#222" stroke-width="1" />
<line x1="399.5" y1="464.55" x2="402" y2="464.55" stroke="#222" stroke-width="1" />
<line x1="399.5" y1="459.39" x2="402" y2="459.39" stroke="#222" stroke-width="1" />
<line x1="397" y1="454.22" x2="402.5" y2="454.22" stroke="#222" stroke-width="1" />
<line x1="399.5" y1="449.06" x2="402" y2="449.06" stroke="#222" stroke-width="1" />
<line x1="399.5" y1="443.89" x2="402" y2="443.89" stroke="#222" stroke-width="1" />
<line x1="399.5" y1="438.73" x2="402" y2="438.73" stroke="#222" stroke-width="1" />
<line x1="397" y1="433.56" x2="402.5" y2="433.56" stroke="#222" stroke-width="1" />
<line x1="399.5" y1="428.4" x2="402" y2="428.4" stroke="#222" stroke-width="1" />
<line x1="412.37" y1="562.3" x2="412.37" y2="565.1" stroke="#2a2a2a" stroke-width="1" />
<line x1="425.65" y1="562.3" x2="425.65" y2="565.1" stroke="#2a2a2a" stroke-width="1" />
<line x1="438.92" y1="562.3" x2="438.92" y2="565.1" stroke="#2a2a2a" stroke-width="1" />
<line x1="452.2" y1="562.3" x2="452.2" y2="565.1" stroke="#2a2a2a" stroke-width="1" />
<line x1="465.47" y1="561" x2="465.47" y2="566" stroke="#222" stroke-width="1" />
<line x1="478.74" y1="562.3" x2="478.74" y2="565.1" stroke="#2a2a2a" stroke-width="1" />
<line x1="492.02" y1="562.3" x2="492.02" y2="565.1" stroke="#2a2a2a" stroke-width="1" />
<line x1="505.29" y1="562.3" x2="505.29" y2="565.1" stroke="#2a2a2a" stroke-width="1" />
<line x1="518.57" y1="562.3" x2="518.57" y2="565.1" stroke="#2a2a2a" stroke-width="1" />
<line x1="531.84" y1="561" x2="531.84" y2="566" stroke="#222" stroke-width="1" />
<line x1="545.11" y1="562.3" x2="545.11" y2="565.1" stroke="#2a2a2a" stroke-width="1" />
<line x1="558.39" y1="562.3" x2="558.39" y2="565.1" stroke="#2a2a2a" stroke-width="1" />
<line x1="571.66" y1="562.3" x2="571.66" y2="565.1" stroke="#2a2a2a" stroke-width="1" />
<line x1="584.94" y1="562.3" x2="584.94" y2="565.1" stroke="#2a2a2a" stroke-width="1" />
<line x1="598.21" y1="561" x2="598.21" y2="566" stroke="#222" stroke-width="1" />
<line x1="611.48" y1="562.3" x2="611.48" y2="565.1" stroke="#2a2a2a" stroke-width="1" />
<line x1="624.76" y1="562.3" x2="624.76" y2="565.1" stroke="#2a2a2a" stroke-width="1" />
<line x1="638.03" y1="562.3" x2="638.03" y2="565.1" stroke="#2a2a2a" stroke-width="1" />
<line x1="651.31" y1="562.3" x2="651.31" y2="565.1" stroke="#2a2a2a" stroke-width="1" />
<line x1="664.58" y1="561" x2="664.58" y2="566" stroke="#222" stroke-width="1" />
<line x1="677.85" y1="562.3" x2="677.85" y2="565.1" stroke="#2a2a2a" stroke-width="1" />
<text x="394" y="435.46" font-size="7.8" text-anchor="end" fill="#222" stroke="#222" stroke-width="0.18" textLength="12.15" lengthAdjust="spacingAndGlyphs">800</text>
<text x="394" y="456.12" font-size="7.8" text-anchor="end" fill="#222" stroke="#222" stroke-width="0.18" textLength="12.15" lengthAdjust="spacingAndGlyphs">600</text>
<text x="394" y="476.78" font-size="7.8" text-anchor="end" fill="#222" stroke="#222" stroke-width="0.18" textLength="12.15" lengthAdjust="spacingAndGlyphs">400</text>
<text x="394" y="497.44" font-size="7.8" text-anchor="end" fill="#222" stroke="#222" stroke-width="0.18" textLength="12.15" lengthAdjust="spacingAndGlyphs">200</text>
<text x="394" y="518.1" font-size="7.8" text-anchor="end" fill="#222" stroke="#222" stroke-width="0.18" textLength="4.05" lengthAdjust="spacingAndGlyphs">0</text>
<text x="394" y="538.76" font-size="7.8" text-anchor="end" fill="#222" stroke="#222" stroke-width="0.18" textLength="14.75" lengthAdjust="spacingAndGlyphs">-200</text>
<text x="394" y="559.42" font-size="7.8" text-anchor="end" fill="#222" stroke="#222" stroke-width="0.18" textLength="14.75" lengthAdjust="spacingAndGlyphs">-400</text>
<text x="398.3" y="574.8" font-size="7.6" text-anchor="middle" fill="#222" stroke="#222" stroke-width="0.15" textLength="4.1" lengthAdjust="spacingAndGlyphs">0</text>
<text x="463.87" y="574.8" font-size="7.6" text-anchor="middle" fill="#222" stroke="#222" stroke-width="0.15" textLength="8.2" lengthAdjust="spacingAndGlyphs">10</text>
<text x="531.14" y="574.8" font-size="7.6" text-anchor="middle" fill="#222" stroke="#222" stroke-width="0.15" textLength="8.2" lengthAdjust="spacingAndGlyphs">20</text>
<text x="597.71" y="574.8" font-size="7.6" text-anchor="middle" fill="#222" stroke="#222" stroke-width="0.15" textLength="8.2" lengthAdjust="spacingAndGlyphs">30</text>
<text x="664.18" y="574.8" font-size="7.6" text-anchor="middle" fill="#222" stroke="#222" stroke-width="0.15" textLength="8.2" lengthAdjust="spacingAndGlyphs">40</text>
<text x="527" y="416.5" font-size="7.3" text-anchor="middle" fill="#111" stroke="#111" stroke-width="0.2" font-weight="bold" textLength="43.6" lengthAdjust="spacingAndGlyphs">Amplification</text>
<text x="541.6" y="586.4" font-size="7" text-anchor="middle" fill="#111" stroke="#111" stroke-width="0.2" font-weight="bold" textLength="19.8" lengthAdjust="spacingAndGlyphs">Cycles</text>
<text x="373.2" y="492.5" font-size="6.6" text-anchor="middle" fill="#111" font-weight="bold" textLength="12.5" lengthAdjust="spacingAndGlyphs" transform="rotate(-90 373.2 492.5)">RFU</text>
<line x1="45.5" y1="204" x2="45.5" y2="313.5" stroke="#8a8a8a" stroke-width="1" stroke-dasharray="1 3"/>
<line x1="88.5" y1="204" x2="88.5" y2="313.5" stroke="#8a8a8a" stroke-width="1" stroke-dasharray="1 3"/>
<line x1="131.5" y1="204" x2="131.5" y2="313.5" stroke="#8a8a8a" stroke-width="1" stroke-dasharray="1 3"/>
<line x1="174.5" y1="204" x2="174.5" y2="313.5" stroke="#8a8a8a" stroke-width="1" stroke-dasharray="1 3"/>
<line x1="217.5" y1="204" x2="217.5" y2="313.5" stroke="#8a8a8a" stroke-width="1" stroke-dasharray="1 3"/>
<line x1="260.5" y1="204" x2="260.5" y2="313.5" stroke="#8a8a8a" stroke-width="1" stroke-dasharray="1 3"/>
<line x1="303.5" y1="204" x2="303.5" y2="313.5" stroke="#8a8a8a" stroke-width="1" stroke-dasharray="1 3"/>
<line x1="36" y1="214.5" x2="315.5" y2="214.5" stroke="#8a8a8a" stroke-width="1" stroke-dasharray="1 3"/>
<line x1="36" y1="239.5" x2="315.5" y2="239.5" stroke="#8a8a8a" stroke-width="1" stroke-dasharray="1 3"/>
<line x1="36" y1="264.5" x2="315.5" y2="264.5" stroke="#8a8a8a" stroke-width="1" stroke-dasharray="1 3"/>
<line x1="36" y1="289.5" x2="315.5" y2="289.5" stroke="#8a8a8a" stroke-width="1" stroke-dasharray="1 3"/>
<rect x="32.5" y="202.5" width="284" height="112" fill="none" stroke="#2a2a2a" stroke-width="1.1"/>
<line x1="30.9" y1="314.4" x2="35.1" y2="314.4" stroke="#111" stroke-width="1" />
<line x1="316.5" y1="314.4" x2="314.1" y2="314.4" stroke="#111" stroke-width="0.9" />
<line x1="32.5" y1="309.4" x2="34.3" y2="309.4" stroke="#111" stroke-width="1" />
<line x1="316.5" y1="309.4" x2="314.9" y2="309.4" stroke="#111" stroke-width="0.9" />
<line x1="32.5" y1="304.41" x2="34.3" y2="304.41" stroke="#111" stroke-width="1" />
<line x1="316.5" y1="304.41" x2="314.9" y2="304.41" stroke="#111" stroke-width="0.9" />
<line x1="32.5" y1="299.42" x2="34.3" y2="299.42" stroke="#111" stroke-width="1" />
<line x1="316.5" y1="299.42" x2="314.9" y2="299.42" stroke="#111" stroke-width="0.9" />
<line x1="32.5" y1="294.42" x2="34.3" y2="294.42" stroke="#111" stroke-width="1" />
<line x1="316.5" y1="294.42" x2="314.9" y2="294.42" stroke="#111" stroke-width="0.9" />
<line x1="30.9" y1="289.43" x2="35.1" y2="289.43" stroke="#111" stroke-width="1" />
<line x1="316.5" y1="289.43" x2="314.1" y2="289.43" stroke="#111" stroke-width="0.9" />
<line x1="32.5" y1="284.43" x2="34.3" y2="284.43" stroke="#111" stroke-width="1" />
<line x1="316.5" y1="284.43" x2="314.9" y2="284.43" stroke="#111" stroke-width="0.9" />
<line x1="32.5" y1="279.44" x2="34.3" y2="279.44" stroke="#111" stroke-width="1" />
<line x1="316.5" y1="279.44" x2="314.9" y2="279.44" stroke="#111" stroke-width="0.9" />
<line x1="32.5" y1="274.44" x2="34.3" y2="274.44" stroke="#111" stroke-width="1" />
<line x1="316.5" y1="274.44" x2="314.9" y2="274.44" stroke="#111" stroke-width="0.9" />
<line x1="32.5" y1="269.44" x2="34.3" y2="269.44" stroke="#111" stroke-width="1" />
<line x1="316.5" y1="269.44" x2="314.9" y2="269.44" stroke="#111" stroke-width="0.9" />
<line x1="30.9" y1="264.45" x2="35.1" y2="264.45" stroke="#111" stroke-width="1" />
<line x1="316.5" y1="264.45" x2="314.1" y2="264.45" stroke="#111" stroke-width="0.9" />
<line x1="32.5" y1="259.45" x2="34.3" y2="259.45" stroke="#111" stroke-width="1" />
<line x1="316.5" y1="259.45" x2="314.9" y2="259.45" stroke="#111" stroke-width="0.9" />
<line x1="32.5" y1="254.46" x2="34.3" y2="254.46" stroke="#111" stroke-width="1" />
<line x1="316.5" y1="254.46" x2="314.9" y2="254.46" stroke="#111" stroke-width="0.9" />
<line x1="32.5" y1="249.47" x2="34.3" y2="249.47" stroke="#111" stroke-width="1" />
<line x1="316.5" y1="249.47" x2="314.9" y2="249.47" stroke="#111" stroke-width="0.9" />
<line x1="32.5" y1="244.47" x2="34.3" y2="244.47" stroke="#111" stroke-width="1" />
<line x1="316.5" y1="244.47" x2="314.9" y2="244.47" stroke="#111" stroke-width="0.9" />
<line x1="30.9" y1="239.47" x2="35.1" y2="239.47" stroke="#111" stroke-width="1" />
<line x1="316.5" y1="239.47" x2="314.1" y2="239.47" stroke="#111" stroke-width="0.9" />
<line x1="32.5" y1="234.48" x2="34.3" y2="234.48" stroke="#111" stroke-width="1" />
<line x1="316.5" y1="234.48" x2="314.9" y2="234.48" stroke="#111" stroke-width="0.9" />
<line x1="32.5" y1="229.49" x2="34.3" y2="229.49" stroke="#111" stroke-width="1" />
<line x1="316.5" y1="229.49" x2="314.9" y2="229.49" stroke="#111" stroke-width="0.9" />
<line x1="32.5" y1="224.49" x2="34.3" y2="224.49" stroke="#111" stroke-width="1" />
<line x1="316.5" y1="224.49" x2="314.9" y2="224.49" stroke="#111" stroke-width="0.9" />
<line x1="32.5" y1="219.5" x2="34.3" y2="219.5" stroke="#111" stroke-width="1" />
<line x1="316.5" y1="219.5" x2="314.9" y2="219.5" stroke="#111" stroke-width="0.9" />
<line x1="30.9" y1="214.5" x2="35.1" y2="214.5" stroke="#111" stroke-width="1" />
<line x1="316.5" y1="214.5" x2="314.1" y2="214.5" stroke="#111" stroke-width="0.9" />
<line x1="32.5" y1="209.5" x2="34.3" y2="209.5" stroke="#111" stroke-width="1" />
<line x1="316.5" y1="209.5" x2="314.9" y2="209.5" stroke="#111" stroke-width="0.9" />
<line x1="32.5" y1="204.51" x2="34.3" y2="204.51" stroke="#111" stroke-width="1" />
<line x1="316.5" y1="204.51" x2="314.9" y2="204.51" stroke="#111" stroke-width="0.9" />
<line x1="37.09" y1="314.5" x2="37.09" y2="312.7" stroke="#111" stroke-width="1" />
<line x1="37.09" y1="202.5" x2="37.09" y2="204.1" stroke="#111" stroke-width="0.9" />
<line x1="45.7" y1="316.3" x2="45.7" y2="311.9" stroke="#111" stroke-width="1" />
<line x1="45.7" y1="202.5" x2="45.7" y2="204.9" stroke="#111" stroke-width="0.9" />
<line x1="54.31" y1="314.5" x2="54.31" y2="312.7" stroke="#111" stroke-width="1" />
<line x1="54.31" y1="202.5" x2="54.31" y2="204.1" stroke="#111" stroke-width="0.9" />
<line x1="62.92" y1="314.5" x2="62.92" y2="312.7" stroke="#111" stroke-width="1" />
<line x1="62.92" y1="202.5" x2="62.92" y2="204.1" stroke="#111" stroke-width="0.9" />
<line x1="71.53" y1="314.5" x2="71.53" y2="312.7" stroke="#111" stroke-width="1" />
<line x1="71.53" y1="202.5" x2="71.53" y2="204.1" stroke="#111" stroke-width="0.9" />
<line x1="80.14" y1="314.5" x2="80.14" y2="312.7" stroke="#111" stroke-width="1" />
<line x1="80.14" y1="202.5" x2="80.14" y2="204.1" stroke="#111" stroke-width="0.9" />
<line x1="88.75" y1="316.3" x2="88.75" y2="311.9" stroke="#111" stroke-width="1" />
<line x1="88.75" y1="202.5" x2="88.75" y2="204.9" stroke="#111" stroke-width="0.9" />
<line x1="97.36" y1="314.5" x2="97.36" y2="312.7" stroke="#111" stroke-width="1" />
<line x1="97.36" y1="202.5" x2="97.36" y2="204.1" stroke="#111" stroke-width="0.9" />
<line x1="105.97" y1="314.5" x2="105.97" y2="312.7" stroke="#111" stroke-width="1" />
<line x1="105.97" y1="202.5" x2="105.97" y2="204.1" stroke="#111" stroke-width="0.9" />
<line x1="114.58" y1="314.5" x2="114.58" y2="312.7" stroke="#111" stroke-width="1" />
<line x1="114.58" y1="202.5" x2="114.58" y2="204.1" stroke="#111" stroke-width="0.9" />
<line x1="123.19" y1="314.5" x2="123.19" y2="312.7" stroke="#111" stroke-width="1" />
<line x1="123.19" y1="202.5" x2="123.19" y2="204.1" stroke="#111" stroke-width="0.9" />
<line x1="131.8" y1="316.3" x2="131.8" y2="311.9" stroke="#111" stroke-width="1" />
<line x1="131.8" y1="202.5" x2="131.8" y2="204.9" stroke="#111" stroke-width="0.9" />
<line x1="140.41" y1="314.5" x2="140.41" y2="312.7" stroke="#111" stroke-width="1" />
<line x1="140.41" y1="202.5" x2="140.41" y2="204.1" stroke="#111" stroke-width="0.9" />
<line x1="149.02" y1="314.5" x2="149.02" y2="312.7" stroke="#111" stroke-width="1" />
<line x1="149.02" y1="202.5" x2="149.02" y2="204.1" stroke="#111" stroke-width="0.9" />
<line x1="157.63" y1="314.5" x2="157.63" y2="312.7" stroke="#111" stroke-width="1" />
<line x1="157.63" y1="202.5" x2="157.63" y2="204.1" stroke="#111" stroke-width="0.9" />
<line x1="166.24" y1="314.5" x2="166.24" y2="312.7" stroke="#111" stroke-width="1" />
<line x1="166.24" y1="202.5" x2="166.24" y2="204.1" stroke="#111" stroke-width="0.9" />
<line x1="174.85" y1="316.3" x2="174.85" y2="311.9" stroke="#111" stroke-width="1" />
<line x1="174.85" y1="202.5" x2="174.85" y2="204.9" stroke="#111" stroke-width="0.9" />
<line x1="183.46" y1="314.5" x2="183.46" y2="312.7" stroke="#111" stroke-width="1" />
<line x1="183.46" y1="202.5" x2="183.46" y2="204.1" stroke="#111" stroke-width="0.9" />
<line x1="192.07" y1="314.5" x2="192.07" y2="312.7" stroke="#111" stroke-width="1" />
<line x1="192.07" y1="202.5" x2="192.07" y2="204.1" stroke="#111" stroke-width="0.9" />
<line x1="200.68" y1="314.5" x2="200.68" y2="312.7" stroke="#111" stroke-width="1" />
<line x1="200.68" y1="202.5" x2="200.68" y2="204.1" stroke="#111" stroke-width="0.9" />
<line x1="209.29" y1="314.5" x2="209.29" y2="312.7" stroke="#111" stroke-width="1" />
<line x1="209.29" y1="202.5" x2="209.29" y2="204.1" stroke="#111" stroke-width="0.9" />
<line x1="217.9" y1="316.3" x2="217.9" y2="311.9" stroke="#111" stroke-width="1" />
<line x1="217.9" y1="202.5" x2="217.9" y2="204.9" stroke="#111" stroke-width="0.9" />
<line x1="226.51" y1="314.5" x2="226.51" y2="312.7" stroke="#111" stroke-width="1" />
<line x1="226.51" y1="202.5" x2="226.51" y2="204.1" stroke="#111" stroke-width="0.9" />
<line x1="235.12" y1="314.5" x2="235.12" y2="312.7" stroke="#111" stroke-width="1" />
<line x1="235.12" y1="202.5" x2="235.12" y2="204.1" stroke="#111" stroke-width="0.9" />
<line x1="243.73" y1="314.5" x2="243.73" y2="312.7" stroke="#111" stroke-width="1" />
<line x1="243.73" y1="202.5" x2="243.73" y2="204.1" stroke="#111" stroke-width="0.9" />
<line x1="252.34" y1="314.5" x2="252.34" y2="312.7" stroke="#111" stroke-width="1" />
<line x1="252.34" y1="202.5" x2="252.34" y2="204.1" stroke="#111" stroke-width="0.9" />
<line x1="260.95" y1="316.3" x2="260.95" y2="311.9" stroke="#111" stroke-width="1" />
<line x1="260.95" y1="202.5" x2="260.95" y2="204.9" stroke="#111" stroke-width="0.9" />
<line x1="269.56" y1="314.5" x2="269.56" y2="312.7" stroke="#111" stroke-width="1" />
<line x1="269.56" y1="202.5" x2="269.56" y2="204.1" stroke="#111" stroke-width="0.9" />
<line x1="278.17" y1="314.5" x2="278.17" y2="312.7" stroke="#111" stroke-width="1" />
<line x1="278.17" y1="202.5" x2="278.17" y2="204.1" stroke="#111" stroke-width="0.9" />
<line x1="286.78" y1="314.5" x2="286.78" y2="312.7" stroke="#111" stroke-width="1" />
<line x1="286.78" y1="202.5" x2="286.78" y2="204.1" stroke="#111" stroke-width="0.9" />
<line x1="295.39" y1="314.5" x2="295.39" y2="312.7" stroke="#111" stroke-width="1" />
<line x1="295.39" y1="202.5" x2="295.39" y2="204.1" stroke="#111" stroke-width="0.9" />
<line x1="304" y1="316.3" x2="304" y2="311.9" stroke="#111" stroke-width="1" />
<line x1="304" y1="202.5" x2="304" y2="204.9" stroke="#111" stroke-width="0.9" />
<line x1="312.61" y1="314.5" x2="312.61" y2="312.7" stroke="#111" stroke-width="1" />
<line x1="312.61" y1="202.5" x2="312.61" y2="204.1" stroke="#111" stroke-width="0.9" />
<line x1="45.7" y1="207.01" x2="304" y2="309.8" stroke="#3f72ab" stroke-width="1.2" />
<circle cx="45.7" cy="207.01" r="2.5" fill="none" stroke="#3f72ab" stroke-width="1"/>
<circle cx="88.75" cy="223.74" r="2.5" fill="none" stroke="#3f72ab" stroke-width="1"/>
<circle cx="131.8" cy="242.22" r="2.5" fill="none" stroke="#3f72ab" stroke-width="1"/>
<circle cx="174.85" cy="258.46" r="2.5" fill="none" stroke="#3f72ab" stroke-width="1"/>
<circle cx="217.9" cy="276.94" r="2.5" fill="none" stroke="#3f72ab" stroke-width="1"/>
<circle cx="260.95" cy="292.67" r="2.5" fill="none" stroke="#3f72ab" stroke-width="1"/>
<circle cx="304" cy="310.15" r="2.5" fill="none" stroke="#3f72ab" stroke-width="1"/>
<text x="26.2" y="217.2" font-size="7.4" text-anchor="end" fill="#222" stroke="#222" stroke-width="0.15" textLength="7.8" lengthAdjust="spacingAndGlyphs">35</text>
<text x="26.2" y="242.17" font-size="7.4" text-anchor="end" fill="#222" stroke="#222" stroke-width="0.15" textLength="7.8" lengthAdjust="spacingAndGlyphs">30</text>
<text x="26.2" y="267.15" font-size="7.4" text-anchor="end" fill="#222" stroke="#222" stroke-width="0.15" textLength="7.8" lengthAdjust="spacingAndGlyphs">25</text>
<text x="26.2" y="292.12" font-size="7.4" text-anchor="end" fill="#222" stroke="#222" stroke-width="0.15" textLength="7.8" lengthAdjust="spacingAndGlyphs">20</text>
<text x="26.2" y="317.1" font-size="7.4" text-anchor="end" fill="#222" stroke="#222" stroke-width="0.15" textLength="7.8" lengthAdjust="spacingAndGlyphs">15</text>
<text x="45.7" y="327.9" font-size="7.4" text-anchor="middle" fill="#222" stroke="#222" stroke-width="0.15" textLength="3.9" lengthAdjust="spacingAndGlyphs">1</text>
<text x="88.75" y="327.9" font-size="7.4" text-anchor="middle" fill="#222" stroke="#222" stroke-width="0.15" textLength="3.9" lengthAdjust="spacingAndGlyphs">2</text>
<text x="131.8" y="327.9" font-size="7.4" text-anchor="middle" fill="#222" stroke="#222" stroke-width="0.15" textLength="3.9" lengthAdjust="spacingAndGlyphs">3</text>
<text x="174.85" y="327.9" font-size="7.4" text-anchor="middle" fill="#222" stroke="#222" stroke-width="0.15" textLength="3.9" lengthAdjust="spacingAndGlyphs">4</text>
<text x="217.9" y="327.9" font-size="7.4" text-anchor="middle" fill="#222" stroke="#222" stroke-width="0.15" textLength="3.9" lengthAdjust="spacingAndGlyphs">5</text>
<text x="260.95" y="327.9" font-size="7.4" text-anchor="middle" fill="#222" stroke="#222" stroke-width="0.15" textLength="3.9" lengthAdjust="spacingAndGlyphs">6</text>
<text x="304" y="327.9" font-size="7.4" text-anchor="middle" fill="#222" stroke="#222" stroke-width="0.15" textLength="3.9" lengthAdjust="spacingAndGlyphs">7</text>
<text x="163.2" y="195.5" font-size="7.3" text-anchor="middle" fill="#111" stroke="#111" stroke-width="0.2" font-weight="bold" textLength="49.8" lengthAdjust="spacingAndGlyphs">Standard Curve</text>
<text x="175.4" y="338.5" font-size="7.3" text-anchor="middle" fill="#111" stroke="#111" stroke-width="0.2" font-weight="bold" textLength="69" lengthAdjust="spacingAndGlyphs">Log Starting Quantity</text>
<text x="12.1" y="256.3" font-size="7.2" text-anchor="middle" fill="#111" font-weight="bold" textLength="7.8" lengthAdjust="spacingAndGlyphs" transform="rotate(-90 12.1 256.3)">Cq</text>
<rect x="30.5" y="342.5" width="174" height="27" fill="#fff" stroke="#6e6e6e" stroke-width="1.1"/>
<circle cx="40.7" cy="348.5" r="2.2" fill="none" stroke="#444" stroke-width="0.9"/>
<line x1="37.7" y1="354" x2="43.7" y2="360" stroke="#444" stroke-width="0.8" />
<line x1="43.7" y1="354" x2="37.7" y2="360" stroke="#444" stroke-width="0.8" />
<line x1="33.8" y1="364.5" x2="47" y2="364.5" stroke="#3f72ab" stroke-width="1" />
<text x="52.8" y="349.9" font-size="6.3" text-anchor="start" fill="#333" textLength="23.4" lengthAdjust="spacingAndGlyphs">Standard</text>
<text x="52.3" y="357.9" font-size="6.3" text-anchor="start" fill="#333" textLength="24" lengthAdjust="spacingAndGlyphs">Unknown</text>
<text x="52.8" y="366.1" font-size="6.3" text-anchor="start" fill="#333" textLength="146.5" lengthAdjust="spacingAndGlyphs">FAM E=95.7% R^2=1.000 Slope=3.430 y-int=39.933</text>
<line x1="411.5" y1="204" x2="411.5" y2="314.5" stroke="#8a8a8a" stroke-width="1" stroke-dasharray="1 3"/>
<line x1="454.5" y1="204" x2="454.5" y2="314.5" stroke="#8a8a8a" stroke-width="1" stroke-dasharray="1 3"/>
<line x1="496.5" y1="204" x2="496.5" y2="314.5" stroke="#8a8a8a" stroke-width="1" stroke-dasharray="1 3"/>
<line x1="539.5" y1="204" x2="539.5" y2="314.5" stroke="#8a8a8a" stroke-width="1" stroke-dasharray="1 3"/>
<line x1="582.5" y1="204" x2="582.5" y2="314.5" stroke="#8a8a8a" stroke-width="1" stroke-dasharray="1 3"/>
<line x1="625.5" y1="204" x2="625.5" y2="314.5" stroke="#8a8a8a" stroke-width="1" stroke-dasharray="1 3"/>
<line x1="668.5" y1="204" x2="668.5" y2="314.5" stroke="#8a8a8a" stroke-width="1" stroke-dasharray="1 3"/>
<line x1="402" y1="208.5" x2="681.5" y2="208.5" stroke="#8a8a8a" stroke-width="1" stroke-dasharray="1 3"/>
<line x1="402" y1="233.5" x2="681.5" y2="233.5" stroke="#8a8a8a" stroke-width="1" stroke-dasharray="1 3"/>
<line x1="402" y1="259.5" x2="681.5" y2="259.5" stroke="#8a8a8a" stroke-width="1" stroke-dasharray="1 3"/>
<line x1="402" y1="284.5" x2="681.5" y2="284.5" stroke="#8a8a8a" stroke-width="1" stroke-dasharray="1 3"/>
<line x1="402" y1="310.5" x2="681.5" y2="310.5" stroke="#8a8a8a" stroke-width="1" stroke-dasharray="1 3"/>
<rect x="398.5" y="202.5" width="284" height="113" fill="none" stroke="#2a2a2a" stroke-width="1.1"/>
<line x1="396.9" y1="310.5" x2="401.1" y2="310.5" stroke="#111" stroke-width="1" />
<line x1="682.5" y1="310.5" x2="680.1" y2="310.5" stroke="#111" stroke-width="0.9" />
<line x1="398.5" y1="305.38" x2="400.3" y2="305.38" stroke="#111" stroke-width="1" />
<line x1="682.5" y1="305.38" x2="680.9" y2="305.38" stroke="#111" stroke-width="0.9" />
<line x1="398.5" y1="300.25" x2="400.3" y2="300.25" stroke="#111" stroke-width="1" />
<line x1="682.5" y1="300.25" x2="680.9" y2="300.25" stroke="#111" stroke-width="0.9" />
<line x1="398.5" y1="295.12" x2="400.3" y2="295.12" stroke="#111" stroke-width="1" />
<line x1="682.5" y1="295.12" x2="680.9" y2="295.12" stroke="#111" stroke-width="0.9" />
<line x1="398.5" y1="290" x2="400.3" y2="290" stroke="#111" stroke-width="1" />
<line x1="682.5" y1="290" x2="680.9" y2="290" stroke="#111" stroke-width="0.9" />
<line x1="396.9" y1="284.88" x2="401.1" y2="284.88" stroke="#111" stroke-width="1" />
<line x1="682.5" y1="284.88" x2="680.1" y2="284.88" stroke="#111" stroke-width="0.9" />
<line x1="398.5" y1="279.75" x2="400.3" y2="279.75" stroke="#111" stroke-width="1" />
<line x1="682.5" y1="279.75" x2="680.9" y2="279.75" stroke="#111" stroke-width="0.9" />
<line x1="398.5" y1="274.62" x2="400.3" y2="274.62" stroke="#111" stroke-width="1" />
<line x1="682.5" y1="274.62" x2="680.9" y2="274.62" stroke="#111" stroke-width="0.9" />
<line x1="398.5" y1="269.5" x2="400.3" y2="269.5" stroke="#111" stroke-width="1" />
<line x1="682.5" y1="269.5" x2="680.9" y2="269.5" stroke="#111" stroke-width="0.9" />
<line x1="398.5" y1="264.38" x2="400.3" y2="264.38" stroke="#111" stroke-width="1" />
<line x1="682.5" y1="264.38" x2="680.9" y2="264.38" stroke="#111" stroke-width="0.9" />
<line x1="396.9" y1="259.25" x2="401.1" y2="259.25" stroke="#111" stroke-width="1" />
<line x1="682.5" y1="259.25" x2="680.1" y2="259.25" stroke="#111" stroke-width="0.9" />
<line x1="398.5" y1="254.12" x2="400.3" y2="254.12" stroke="#111" stroke-width="1" />
<line x1="682.5" y1="254.12" x2="680.9" y2="254.12" stroke="#111" stroke-width="0.9" />
<line x1="398.5" y1="249" x2="400.3" y2="249" stroke="#111" stroke-width="1" />
<line x1="682.5" y1="249" x2="680.9" y2="249" stroke="#111" stroke-width="0.9" />
<line x1="398.5" y1="243.88" x2="400.3" y2="243.88" stroke="#111" stroke-width="1" />
<line x1="682.5" y1="243.88" x2="680.9" y2="243.88" stroke="#111" stroke-width="0.9" />
<line x1="398.5" y1="238.75" x2="400.3" y2="238.75" stroke="#111" stroke-width="1" />
<line x1="682.5" y1="238.75" x2="680.9" y2="238.75" stroke="#111" stroke-width="0.9" />
<line x1="396.9" y1="233.62" x2="401.1" y2="233.62" stroke="#111" stroke-width="1" />
<line x1="682.5" y1="233.62" x2="680.1" y2="233.62" stroke="#111" stroke-width="0.9" />
<line x1="398.5" y1="228.5" x2="400.3" y2="228.5" stroke="#111" stroke-width="1" />
<line x1="682.5" y1="228.5" x2="680.9" y2="228.5" stroke="#111" stroke-width="0.9" />
<line x1="398.5" y1="223.38" x2="400.3" y2="223.38" stroke="#111" stroke-width="1" />
<line x1="682.5" y1="223.38" x2="680.9" y2="223.38" stroke="#111" stroke-width="0.9" />
<line x1="398.5" y1="218.25" x2="400.3" y2="218.25" stroke="#111" stroke-width="1" />
<line x1="682.5" y1="218.25" x2="680.9" y2="218.25" stroke="#111" stroke-width="0.9" />
<line x1="398.5" y1="213.12" x2="400.3" y2="213.12" stroke="#111" stroke-width="1" />
<line x1="682.5" y1="213.12" x2="680.9" y2="213.12" stroke="#111" stroke-width="0.9" />
<line x1="396.9" y1="208" x2="401.1" y2="208" stroke="#111" stroke-width="1" />
<line x1="682.5" y1="208" x2="680.1" y2="208" stroke="#111" stroke-width="0.9" />
<line x1="398.5" y1="202.88" x2="400.3" y2="202.88" stroke="#111" stroke-width="1" />
<line x1="682.5" y1="202.88" x2="680.9" y2="202.88" stroke="#111" stroke-width="0.9" />
<line x1="402.85" y1="315.5" x2="402.85" y2="313.7" stroke="#111" stroke-width="1" />
<line x1="402.85" y1="202.5" x2="402.85" y2="204.1" stroke="#111" stroke-width="0.9" />
<line x1="411.4" y1="317.3" x2="411.4" y2="312.9" stroke="#111" stroke-width="1" />
<line x1="411.4" y1="202.5" x2="411.4" y2="204.9" stroke="#111" stroke-width="0.9" />
<line x1="419.95" y1="315.5" x2="419.95" y2="313.7" stroke="#111" stroke-width="1" />
<line x1="419.95" y1="202.5" x2="419.95" y2="204.1" stroke="#111" stroke-width="0.9" />
<line x1="428.51" y1="315.5" x2="428.51" y2="313.7" stroke="#111" stroke-width="1" />
<line x1="428.51" y1="202.5" x2="428.51" y2="204.1" stroke="#111" stroke-width="0.9" />
<line x1="437.06" y1="315.5" x2="437.06" y2="313.7" stroke="#111" stroke-width="1" />
<line x1="437.06" y1="202.5" x2="437.06" y2="204.1" stroke="#111" stroke-width="0.9" />
<line x1="445.62" y1="315.5" x2="445.62" y2="313.7" stroke="#111" stroke-width="1" />
<line x1="445.62" y1="202.5" x2="445.62" y2="204.1" stroke="#111" stroke-width="0.9" />
<line x1="454.17" y1="317.3" x2="454.17" y2="312.9" stroke="#111" stroke-width="1" />
<line x1="454.17" y1="202.5" x2="454.17" y2="204.9" stroke="#111" stroke-width="0.9" />
<line x1="462.72" y1="315.5" x2="462.72" y2="313.7" stroke="#111" stroke-width="1" />
<line x1="462.72" y1="202.5" x2="462.72" y2="204.1" stroke="#111" stroke-width="0.9" />
<line x1="471.28" y1="315.5" x2="471.28" y2="313.7" stroke="#111" stroke-width="1" />
<line x1="471.28" y1="202.5" x2="471.28" y2="204.1" stroke="#111" stroke-width="0.9" />
<line x1="479.83" y1="315.5" x2="479.83" y2="313.7" stroke="#111" stroke-width="1" />
<line x1="479.83" y1="202.5" x2="479.83" y2="204.1" stroke="#111" stroke-width="0.9" />
<line x1="488.39" y1="315.5" x2="488.39" y2="313.7" stroke="#111" stroke-width="1" />
<line x1="488.39" y1="202.5" x2="488.39" y2="204.1" stroke="#111" stroke-width="0.9" />
<line x1="496.94" y1="317.3" x2="496.94" y2="312.9" stroke="#111" stroke-width="1" />
<line x1="496.94" y1="202.5" x2="496.94" y2="204.9" stroke="#111" stroke-width="0.9" />
<line x1="505.49" y1="315.5" x2="505.49" y2="313.7" stroke="#111" stroke-width="1" />
<line x1="505.49" y1="202.5" x2="505.49" y2="204.1" stroke="#111" stroke-width="0.9" />
<line x1="514.05" y1="315.5" x2="514.05" y2="313.7" stroke="#111" stroke-width="1" />
<line x1="514.05" y1="202.5" x2="514.05" y2="204.1" stroke="#111" stroke-width="0.9" />
<line x1="522.6" y1="315.5" x2="522.6" y2="313.7" stroke="#111" stroke-width="1" />
<line x1="522.6" y1="202.5" x2="522.6" y2="204.1" stroke="#111" stroke-width="0.9" />
<line x1="531.16" y1="315.5" x2="531.16" y2="313.7" stroke="#111" stroke-width="1" />
<line x1="531.16" y1="202.5" x2="531.16" y2="204.1" stroke="#111" stroke-width="0.9" />
<line x1="539.71" y1="317.3" x2="539.71" y2="312.9" stroke="#111" stroke-width="1" />
<line x1="539.71" y1="202.5" x2="539.71" y2="204.9" stroke="#111" stroke-width="0.9" />
<line x1="548.26" y1="315.5" x2="548.26" y2="313.7" stroke="#111" stroke-width="1" />
<line x1="548.26" y1="202.5" x2="548.26" y2="204.1" stroke="#111" stroke-width="0.9" />
<line x1="556.82" y1="315.5" x2="556.82" y2="313.7" stroke="#111" stroke-width="1" />
<line x1="556.82" y1="202.5" x2="556.82" y2="204.1" stroke="#111" stroke-width="0.9" />
<line x1="565.37" y1="315.5" x2="565.37" y2="313.7" stroke="#111" stroke-width="1" />
<line x1="565.37" y1="202.5" x2="565.37" y2="204.1" stroke="#111" stroke-width="0.9" />
<line x1="573.93" y1="315.5" x2="573.93" y2="313.7" stroke="#111" stroke-width="1" />
<line x1="573.93" y1="202.5" x2="573.93" y2="204.1" stroke="#111" stroke-width="0.9" />
<line x1="582.48" y1="317.3" x2="582.48" y2="312.9" stroke="#111" stroke-width="1" />
<line x1="582.48" y1="202.5" x2="582.48" y2="204.9" stroke="#111" stroke-width="0.9" />
<line x1="591.03" y1="315.5" x2="591.03" y2="313.7" stroke="#111" stroke-width="1" />
<line x1="591.03" y1="202.5" x2="591.03" y2="204.1" stroke="#111" stroke-width="0.9" />
<line x1="599.59" y1="315.5" x2="599.59" y2="313.7" stroke="#111" stroke-width="1" />
<line x1="599.59" y1="202.5" x2="599.59" y2="204.1" stroke="#111" stroke-width="0.9" />
<line x1="608.14" y1="315.5" x2="608.14" y2="313.7" stroke="#111" stroke-width="1" />
<line x1="608.14" y1="202.5" x2="608.14" y2="204.1" stroke="#111" stroke-width="0.9" />
<line x1="616.7" y1="315.5" x2="616.7" y2="313.7" stroke="#111" stroke-width="1" />
<line x1="616.7" y1="202.5" x2="616.7" y2="204.1" stroke="#111" stroke-width="0.9" />
<line x1="625.25" y1="317.3" x2="625.25" y2="312.9" stroke="#111" stroke-width="1" />
<line x1="625.25" y1="202.5" x2="625.25" y2="204.9" stroke="#111" stroke-width="0.9" />
<line x1="633.8" y1="315.5" x2="633.8" y2="313.7" stroke="#111" stroke-width="1" />
<line x1="633.8" y1="202.5" x2="633.8" y2="204.1" stroke="#111" stroke-width="0.9" />
<line x1="642.36" y1="315.5" x2="642.36" y2="313.7" stroke="#111" stroke-width="1" />
<line x1="642.36" y1="202.5" x2="642.36" y2="204.1" stroke="#111" stroke-width="0.9" />
<line x1="650.91" y1="315.5" x2="650.91" y2="313.7" stroke="#111" stroke-width="1" />
<line x1="650.91" y1="202.5" x2="650.91" y2="204.1" stroke="#111" stroke-width="0.9" />
<line x1="659.47" y1="315.5" x2="659.47" y2="313.7" stroke="#111" stroke-width="1" />
<line x1="659.47" y1="202.5" x2="659.47" y2="204.1" stroke="#111" stroke-width="0.9" />
<line x1="668.02" y1="317.3" x2="668.02" y2="312.9" stroke="#111" stroke-width="1" />
<line x1="668.02" y1="202.5" x2="668.02" y2="204.9" stroke="#111" stroke-width="0.9" />
<line x1="676.57" y1="315.5" x2="676.57" y2="313.7" stroke="#111" stroke-width="1" />
<line x1="676.57" y1="202.5" x2="676.57" y2="204.1" stroke="#111" stroke-width="0.9" />
<line x1="411.4" y1="207.44" x2="668.02" y2="308.91" stroke="#b040b0" stroke-width="1.2" />
<circle cx="411.4" cy="207.49" r="2.5" fill="none" stroke="#b040b0" stroke-width="1"/>
<circle cx="454.17" cy="224.4" r="2.5" fill="none" stroke="#b040b0" stroke-width="1"/>
<circle cx="496.94" cy="241.06" r="2.5" fill="none" stroke="#b040b0" stroke-width="1"/>
<circle cx="539.71" cy="257.97" r="2.5" fill="none" stroke="#b040b0" stroke-width="1"/>
<circle cx="582.48" cy="274.62" r="2.5" fill="none" stroke="#b040b0" stroke-width="1"/>
<circle cx="625.25" cy="292.05" r="2.5" fill="none" stroke="#b040b0" stroke-width="1"/>
<circle cx="668.02" cy="309.68" r="2.5" fill="none" stroke="#b040b0" stroke-width="1"/>
<text x="393" y="210.7" font-size="7.4" text-anchor="end" fill="#222" stroke="#222" stroke-width="0.15" textLength="7.8" lengthAdjust="spacingAndGlyphs">35</text>
<text x="393" y="236.32" font-size="7.4" text-anchor="end" fill="#222" stroke="#222" stroke-width="0.15" textLength="7.8" lengthAdjust="spacingAndGlyphs">30</text>
<text x="393" y="261.95" font-size="7.4" text-anchor="end" fill="#222" stroke="#222" stroke-width="0.15" textLength="7.8" lengthAdjust="spacingAndGlyphs">25</text>
<text x="393" y="287.57" font-size="7.4" text-anchor="end" fill="#222" stroke="#222" stroke-width="0.15" textLength="7.8" lengthAdjust="spacingAndGlyphs">20</text>
<text x="393" y="313.2" font-size="7.4" text-anchor="end" fill="#222" stroke="#222" stroke-width="0.15" textLength="7.8" lengthAdjust="spacingAndGlyphs">15</text>
<text x="411.4" y="327.2" font-size="7.4" text-anchor="middle" fill="#222" stroke="#222" stroke-width="0.15" textLength="3.9" lengthAdjust="spacingAndGlyphs">1</text>
<text x="454.17" y="327.2" font-size="7.4" text-anchor="middle" fill="#222" stroke="#222" stroke-width="0.15" textLength="3.9" lengthAdjust="spacingAndGlyphs">2</text>
<text x="496.94" y="327.2" font-size="7.4" text-anchor="middle" fill="#222" stroke="#222" stroke-width="0.15" textLength="3.9" lengthAdjust="spacingAndGlyphs">3</text>
<text x="539.71" y="327.2" font-size="7.4" text-anchor="middle" fill="#222" stroke="#222" stroke-width="0.15" textLength="3.9" lengthAdjust="spacingAndGlyphs">4</text>
<text x="582.48" y="327.2" font-size="7.4" text-anchor="middle" fill="#222" stroke="#222" stroke-width="0.15" textLength="3.9" lengthAdjust="spacingAndGlyphs">5</text>
<text x="625.25" y="327.2" font-size="7.4" text-anchor="middle" fill="#222" stroke="#222" stroke-width="0.15" textLength="3.9" lengthAdjust="spacingAndGlyphs">6</text>
<text x="668.02" y="327.2" font-size="7.4" text-anchor="middle" fill="#222" stroke="#222" stroke-width="0.15" textLength="3.9" lengthAdjust="spacingAndGlyphs">7</text>
<text x="529.8" y="198.7" font-size="7.3" text-anchor="middle" fill="#111" stroke="#111" stroke-width="0.2" font-weight="bold" textLength="49.8" lengthAdjust="spacingAndGlyphs">Standard Curve</text>
<text x="541.2" y="337.5" font-size="7.3" text-anchor="middle" fill="#111" stroke="#111" stroke-width="0.2" font-weight="bold" textLength="69" lengthAdjust="spacingAndGlyphs">Log Starting Quantity</text>
<text x="378.5" y="259.3" font-size="7.2" text-anchor="middle" fill="#111" font-weight="bold" textLength="7.8" lengthAdjust="spacingAndGlyphs" transform="rotate(-90 378.5 259.3)">Cq</text>
<rect x="397.5" y="342.5" width="173" height="27" fill="#fff" stroke="#6e6e6e" stroke-width="1.1"/>
<circle cx="406.8" cy="348.5" r="2.2" fill="none" stroke="#444" stroke-width="0.9"/>
<line x1="403.8" y1="354" x2="409.8" y2="360" stroke="#444" stroke-width="0.8" />
<line x1="409.8" y1="354" x2="403.8" y2="360" stroke="#444" stroke-width="0.8" />
<line x1="401.5" y1="364.5" x2="413" y2="364.5" stroke="#b040b0" stroke-width="1" />
<text x="418.1" y="349.9" font-size="6.3" text-anchor="start" fill="#333" textLength="23.4" lengthAdjust="spacingAndGlyphs">Standard</text>
<text x="417.6" y="357.9" font-size="6.3" text-anchor="start" fill="#333" textLength="24" lengthAdjust="spacingAndGlyphs">Unknown</text>
<text x="418.1" y="366.1" font-size="6.3" text-anchor="start" fill="#333" textLength="149" lengthAdjust="spacingAndGlyphs">Cy5 E=100.9% R^2=1.000 Slope=3.301 y-int=38.414</text>
<line x1="44.5" y1="608" x2="44.5" y2="717.5" stroke="#8a8a8a" stroke-width="1" stroke-dasharray="1 3"/>
<line x1="87.5" y1="608" x2="87.5" y2="717.5" stroke="#8a8a8a" stroke-width="1" stroke-dasharray="1 3"/>
<line x1="130.5" y1="608" x2="130.5" y2="717.5" stroke="#8a8a8a" stroke-width="1" stroke-dasharray="1 3"/>
<line x1="173.5" y1="608" x2="173.5" y2="717.5" stroke="#8a8a8a" stroke-width="1" stroke-dasharray="1 3"/>
<line x1="215.5" y1="608" x2="215.5" y2="717.5" stroke="#8a8a8a" stroke-width="1" stroke-dasharray="1 3"/>
<line x1="258.5" y1="608" x2="258.5" y2="717.5" stroke="#8a8a8a" stroke-width="1" stroke-dasharray="1 3"/>
<line x1="301.5" y1="608" x2="301.5" y2="717.5" stroke="#8a8a8a" stroke-width="1" stroke-dasharray="1 3"/>
<line x1="36" y1="625.5" x2="315.5" y2="625.5" stroke="#8a8a8a" stroke-width="1" stroke-dasharray="1 3"/>
<line x1="36" y1="652.5" x2="315.5" y2="652.5" stroke="#8a8a8a" stroke-width="1" stroke-dasharray="1 3"/>
<line x1="36" y1="679.5" x2="315.5" y2="679.5" stroke="#8a8a8a" stroke-width="1" stroke-dasharray="1 3"/>
<line x1="36" y1="706.5" x2="315.5" y2="706.5" stroke="#8a8a8a" stroke-width="1" stroke-dasharray="1 3"/>
<rect x="32.5" y="606.5" width="284" height="112" fill="none" stroke="#2a2a2a" stroke-width="1.1"/>
<line x1="32.5" y1="717.6" x2="34.3" y2="717.6" stroke="#111" stroke-width="1" />
<line x1="316.5" y1="717.6" x2="314.9" y2="717.6" stroke="#111" stroke-width="0.9" />
<line x1="32.5" y1="712.2" x2="34.3" y2="712.2" stroke="#111" stroke-width="1" />
<line x1="316.5" y1="712.2" x2="314.9" y2="712.2" stroke="#111" stroke-width="0.9" />
<line x1="30.9" y1="706.8" x2="35.1" y2="706.8" stroke="#111" stroke-width="1" />
<line x1="316.5" y1="706.8" x2="314.1" y2="706.8" stroke="#111" stroke-width="0.9" />
<line x1="32.5" y1="701.4" x2="34.3" y2="701.4" stroke="#111" stroke-width="1" />
<line x1="316.5" y1="701.4" x2="314.9" y2="701.4" stroke="#111" stroke-width="0.9" />
<line x1="32.5" y1="696" x2="34.3" y2="696" stroke="#111" stroke-width="1" />
<line x1="316.5" y1="696" x2="314.9" y2="696" stroke="#111" stroke-width="0.9" />
<line x1="32.5" y1="690.6" x2="34.3" y2="690.6" stroke="#111" stroke-width="1" />
<line x1="316.5" y1="690.6" x2="314.9" y2="690.6" stroke="#111" stroke-width="0.9" />
<line x1="32.5" y1="685.2" x2="34.3" y2="685.2" stroke="#111" stroke-width="1" />
<line x1="316.5" y1="685.2" x2="314.9" y2="685.2" stroke="#111" stroke-width="0.9" />
<line x1="30.9" y1="679.8" x2="35.1" y2="679.8" stroke="#111" stroke-width="1" />
<line x1="316.5" y1="679.8" x2="314.1" y2="679.8" stroke="#111" stroke-width="0.9" />
<line x1="32.5" y1="674.4" x2="34.3" y2="674.4" stroke="#111" stroke-width="1" />
<line x1="316.5" y1="674.4" x2="314.9" y2="674.4" stroke="#111" stroke-width="0.9" />
<line x1="32.5" y1="669" x2="34.3" y2="669" stroke="#111" stroke-width="1" />
<line x1="316.5" y1="669" x2="314.9" y2="669" stroke="#111" stroke-width="0.9" />
<line x1="32.5" y1="663.6" x2="34.3" y2="663.6" stroke="#111" stroke-width="1" />
<line x1="316.5" y1="663.6" x2="314.9" y2="663.6" stroke="#111" stroke-width="0.9" />
<line x1="32.5" y1="658.2" x2="34.3" y2="658.2" stroke="#111" stroke-width="1" />
<line x1="316.5" y1="658.2" x2="314.9" y2="658.2" stroke="#111" stroke-width="0.9" />
<line x1="30.9" y1="652.8" x2="35.1" y2="652.8" stroke="#111" stroke-width="1" />
<line x1="316.5" y1="652.8" x2="314.1" y2="652.8" stroke="#111" stroke-width="0.9" />
<line x1="32.5" y1="647.4" x2="34.3" y2="647.4" stroke="#111" stroke-width="1" />
<line x1="316.5" y1="647.4" x2="314.9" y2="647.4" stroke="#111" stroke-width="0.9" />
<line x1="32.5" y1="642" x2="34.3" y2="642" stroke="#111" stroke-width="1" />
<line x1="316.5" y1="642" x2="314.9" y2="642" stroke="#111" stroke-width="0.9" />
<line x1="32.5" y1="636.6" x2="34.3" y2="636.6" stroke="#111" stroke-width="1" />
<line x1="316.5" y1="636.6" x2="314.9" y2="636.6" stroke="#111" stroke-width="0.9" />
<line x1="32.5" y1="631.2" x2="34.3" y2="631.2" stroke="#111" stroke-width="1" />
<line x1="316.5" y1="631.2" x2="314.9" y2="631.2" stroke="#111" stroke-width="0.9" />
<line x1="30.9" y1="625.8" x2="35.1" y2="625.8" stroke="#111" stroke-width="1" />
<line x1="316.5" y1="625.8" x2="314.1" y2="625.8" stroke="#111" stroke-width="0.9" />
<line x1="32.5" y1="620.4" x2="34.3" y2="620.4" stroke="#111" stroke-width="1" />
<line x1="316.5" y1="620.4" x2="314.9" y2="620.4" stroke="#111" stroke-width="0.9" />
<line x1="32.5" y1="615" x2="34.3" y2="615" stroke="#111" stroke-width="1" />
<line x1="316.5" y1="615" x2="314.9" y2="615" stroke="#111" stroke-width="0.9" />
<line x1="32.5" y1="609.6" x2="34.3" y2="609.6" stroke="#111" stroke-width="1" />
<line x1="316.5" y1="609.6" x2="314.9" y2="609.6" stroke="#111" stroke-width="0.9" />
<line x1="36.35" y1="718.5" x2="36.35" y2="716.7" stroke="#111" stroke-width="1" />
<line x1="36.35" y1="606.5" x2="36.35" y2="608.1" stroke="#111" stroke-width="0.9" />
<line x1="44.9" y1="720.3" x2="44.9" y2="715.9" stroke="#111" stroke-width="1" />
<line x1="44.9" y1="606.5" x2="44.9" y2="608.9" stroke="#111" stroke-width="0.9" />
<line x1="53.45" y1="718.5" x2="53.45" y2="716.7" stroke="#111" stroke-width="1" />
<line x1="53.45" y1="606.5" x2="53.45" y2="608.1" stroke="#111" stroke-width="0.9" />
<line x1="62" y1="718.5" x2="62" y2="716.7" stroke="#111" stroke-width="1" />
<line x1="62" y1="606.5" x2="62" y2="608.1" stroke="#111" stroke-width="0.9" />
<line x1="70.55" y1="718.5" x2="70.55" y2="716.7" stroke="#111" stroke-width="1" />
<line x1="70.55" y1="606.5" x2="70.55" y2="608.1" stroke="#111" stroke-width="0.9" />
<line x1="79.1" y1="718.5" x2="79.1" y2="716.7" stroke="#111" stroke-width="1" />
<line x1="79.1" y1="606.5" x2="79.1" y2="608.1" stroke="#111" stroke-width="0.9" />
<line x1="87.65" y1="720.3" x2="87.65" y2="715.9" stroke="#111" stroke-width="1" />
<line x1="87.65" y1="606.5" x2="87.65" y2="608.9" stroke="#111" stroke-width="0.9" />
<line x1="96.2" y1="718.5" x2="96.2" y2="716.7" stroke="#111" stroke-width="1" />
<line x1="96.2" y1="606.5" x2="96.2" y2="608.1" stroke="#111" stroke-width="0.9" />
<line x1="104.75" y1="718.5" x2="104.75" y2="716.7" stroke="#111" stroke-width="1" />
<line x1="104.75" y1="606.5" x2="104.75" y2="608.1" stroke="#111" stroke-width="0.9" />
<line x1="113.3" y1="718.5" x2="113.3" y2="716.7" stroke="#111" stroke-width="1" />
<line x1="113.3" y1="606.5" x2="113.3" y2="608.1" stroke="#111" stroke-width="0.9" />
<line x1="121.85" y1="718.5" x2="121.85" y2="716.7" stroke="#111" stroke-width="1" />
<line x1="121.85" y1="606.5" x2="121.85" y2="608.1" stroke="#111" stroke-width="0.9" />
<line x1="130.4" y1="720.3" x2="130.4" y2="715.9" stroke="#111" stroke-width="1" />
<line x1="130.4" y1="606.5" x2="130.4" y2="608.9" stroke="#111" stroke-width="0.9" />
<line x1="138.95" y1="718.5" x2="138.95" y2="716.7" stroke="#111" stroke-width="1" />
<line x1="138.95" y1="606.5" x2="138.95" y2="608.1" stroke="#111" stroke-width="0.9" />
<line x1="147.5" y1="718.5" x2="147.5" y2="716.7" stroke="#111" stroke-width="1" />
<line x1="147.5" y1="606.5" x2="147.5" y2="608.1" stroke="#111" stroke-width="0.9" />
<line x1="156.05" y1="718.5" x2="156.05" y2="716.7" stroke="#111" stroke-width="1" />
<line x1="156.05" y1="606.5" x2="156.05" y2="608.1" stroke="#111" stroke-width="0.9" />
<line x1="164.6" y1="718.5" x2="164.6" y2="716.7" stroke="#111" stroke-width="1" />
<line x1="164.6" y1="606.5" x2="164.6" y2="608.1" stroke="#111" stroke-width="0.9" />
<line x1="173.15" y1="720.3" x2="173.15" y2="715.9" stroke="#111" stroke-width="1" />
<line x1="173.15" y1="606.5" x2="173.15" y2="608.9" stroke="#111" stroke-width="0.9" />
<line x1="181.7" y1="718.5" x2="181.7" y2="716.7" stroke="#111" stroke-width="1" />
<line x1="181.7" y1="606.5" x2="181.7" y2="608.1" stroke="#111" stroke-width="0.9" />
<line x1="190.25" y1="718.5" x2="190.25" y2="716.7" stroke="#111" stroke-width="1" />
<line x1="190.25" y1="606.5" x2="190.25" y2="608.1" stroke="#111" stroke-width="0.9" />
<line x1="198.8" y1="718.5" x2="198.8" y2="716.7" stroke="#111" stroke-width="1" />
<line x1="198.8" y1="606.5" x2="198.8" y2="608.1" stroke="#111" stroke-width="0.9" />
<line x1="207.35" y1="718.5" x2="207.35" y2="716.7" stroke="#111" stroke-width="1" />
<line x1="207.35" y1="606.5" x2="207.35" y2="608.1" stroke="#111" stroke-width="0.9" />
<line x1="215.9" y1="720.3" x2="215.9" y2="715.9" stroke="#111" stroke-width="1" />
<line x1="215.9" y1="606.5" x2="215.9" y2="608.9" stroke="#111" stroke-width="0.9" />
<line x1="224.45" y1="718.5" x2="224.45" y2="716.7" stroke="#111" stroke-width="1" />
<line x1="224.45" y1="606.5" x2="224.45" y2="608.1" stroke="#111" stroke-width="0.9" />
<line x1="233" y1="718.5" x2="233" y2="716.7" stroke="#111" stroke-width="1" />
<line x1="233" y1="606.5" x2="233" y2="608.1" stroke="#111" stroke-width="0.9" />
<line x1="241.55" y1="718.5" x2="241.55" y2="716.7" stroke="#111" stroke-width="1" />
<line x1="241.55" y1="606.5" x2="241.55" y2="608.1" stroke="#111" stroke-width="0.9" />
<line x1="250.1" y1="718.5" x2="250.1" y2="716.7" stroke="#111" stroke-width="1" />
<line x1="250.1" y1="606.5" x2="250.1" y2="608.1" stroke="#111" stroke-width="0.9" />
<line x1="258.65" y1="720.3" x2="258.65" y2="715.9" stroke="#111" stroke-width="1" />
<line x1="258.65" y1="606.5" x2="258.65" y2="608.9" stroke="#111" stroke-width="0.9" />
<line x1="267.2" y1="718.5" x2="267.2" y2="716.7" stroke="#111" stroke-width="1" />
<line x1="267.2" y1="606.5" x2="267.2" y2="608.1" stroke="#111" stroke-width="0.9" />
<line x1="275.75" y1="718.5" x2="275.75" y2="716.7" stroke="#111" stroke-width="1" />
<line x1="275.75" y1="606.5" x2="275.75" y2="608.1" stroke="#111" stroke-width="0.9" />
<line x1="284.3" y1="718.5" x2="284.3" y2="716.7" stroke="#111" stroke-width="1" />
<line x1="284.3" y1="606.5" x2="284.3" y2="608.1" stroke="#111" stroke-width="0.9" />
<line x1="292.85" y1="718.5" x2="292.85" y2="716.7" stroke="#111" stroke-width="1" />
<line x1="292.85" y1="606.5" x2="292.85" y2="608.1" stroke="#111" stroke-width="0.9" />
<line x1="301.4" y1="720.3" x2="301.4" y2="715.9" stroke="#111" stroke-width="1" />
<line x1="301.4" y1="606.5" x2="301.4" y2="608.9" stroke="#111" stroke-width="0.9" />
<line x1="309.95" y1="718.5" x2="309.95" y2="716.7" stroke="#111" stroke-width="1" />
<line x1="309.95" y1="606.5" x2="309.95" y2="608.1" stroke="#111" stroke-width="0.9" />
<line x1="50.03" y1="612.03" x2="303.54" y2="714.36" stroke="#4a8a52" stroke-width="1.2" />
<circle cx="44.9" cy="612.03" r="2.5" fill="none" stroke="#4a8a52" stroke-width="1"/>
<circle cx="87.65" cy="626.18" r="2.5" fill="none" stroke="#4a8a52" stroke-width="1"/>
<circle cx="130.4" cy="642.54" r="2.5" fill="none" stroke="#4a8a52" stroke-width="1"/>
<circle cx="173.15" cy="659.55" r="2.5" fill="none" stroke="#4a8a52" stroke-width="1"/>
<circle cx="215.9" cy="677.8" r="2.5" fill="none" stroke="#4a8a52" stroke-width="1"/>
<circle cx="258.65" cy="695.62" r="2.5" fill="none" stroke="#4a8a52" stroke-width="1"/>
<circle cx="301.4" cy="714.2" r="2.5" fill="none" stroke="#4a8a52" stroke-width="1"/>
<text x="25.8" y="628.5" font-size="7.4" text-anchor="end" fill="#222" stroke="#222" stroke-width="0.15" textLength="7.8" lengthAdjust="spacingAndGlyphs">30</text>
<text x="25.8" y="655.5" font-size="7.4" text-anchor="end" fill="#222" stroke="#222" stroke-width="0.15" textLength="7.8" lengthAdjust="spacingAndGlyphs">25</text>
<text x="25.8" y="682.5" font-size="7.4" text-anchor="end" fill="#222" stroke="#222" stroke-width="0.15" textLength="7.8" lengthAdjust="spacingAndGlyphs">20</text>
<text x="25.8" y="709.5" font-size="7.4" text-anchor="end" fill="#222" stroke="#222" stroke-width="0.15" textLength="7.8" lengthAdjust="spacingAndGlyphs">15</text>
<text x="44.9" y="731.3" font-size="7.4" text-anchor="middle" fill="#222" stroke="#222" stroke-width="0.15" textLength="3.9" lengthAdjust="spacingAndGlyphs">1</text>
<text x="87.65" y="731.3" font-size="7.4" text-anchor="middle" fill="#222" stroke="#222" stroke-width="0.15" textLength="3.9" lengthAdjust="spacingAndGlyphs">2</text>
<text x="130.4" y="731.3" font-size="7.4" text-anchor="middle" fill="#222" stroke="#222" stroke-width="0.15" textLength="3.9" lengthAdjust="spacingAndGlyphs">3</text>
<text x="173.15" y="731.3" font-size="7.4" text-anchor="middle" fill="#222" stroke="#222" stroke-width="0.15" textLength="3.9" lengthAdjust="spacingAndGlyphs">4</text>
<text x="215.9" y="731.3" font-size="7.4" text-anchor="middle" fill="#222" stroke="#222" stroke-width="0.15" textLength="3.9" lengthAdjust="spacingAndGlyphs">5</text>
<text x="258.65" y="731.3" font-size="7.4" text-anchor="middle" fill="#222" stroke="#222" stroke-width="0.15" textLength="3.9" lengthAdjust="spacingAndGlyphs">6</text>
<text x="301.4" y="731.3" font-size="7.4" text-anchor="middle" fill="#222" stroke="#222" stroke-width="0.15" textLength="3.9" lengthAdjust="spacingAndGlyphs">7</text>
<text x="163.6" y="599.2" font-size="7.3" text-anchor="middle" fill="#111" stroke="#111" stroke-width="0.2" font-weight="bold" textLength="49.8" lengthAdjust="spacingAndGlyphs">Standard Curve</text>
<text x="175.9" y="742.4" font-size="7.3" text-anchor="middle" fill="#111" stroke="#111" stroke-width="0.2" font-weight="bold" textLength="69" lengthAdjust="spacingAndGlyphs">Log Starting Quantity</text>
<text x="12.5" y="660" font-size="7.2" text-anchor="middle" fill="#111" font-weight="bold" textLength="7.8" lengthAdjust="spacingAndGlyphs" transform="rotate(-90 12.5 660)">Cq</text>
<rect x="30.5" y="746.5" width="175" height="27" fill="#fff" stroke="#6e6e6e" stroke-width="1.1"/>
<circle cx="40.3" cy="752.5" r="2.2" fill="none" stroke="#444" stroke-width="0.9"/>
<line x1="37.3" y1="758" x2="43.3" y2="764" stroke="#444" stroke-width="0.8" />
<line x1="43.3" y1="758" x2="37.3" y2="764" stroke="#444" stroke-width="0.8" />
<line x1="33.3" y1="768.5" x2="46.6" y2="768.5" stroke="#4a8a52" stroke-width="1" />
<text x="52.7" y="753.9" font-size="6.3" text-anchor="start" fill="#333" textLength="23.4" lengthAdjust="spacingAndGlyphs">Standard</text>
<text x="52.2" y="761.9" font-size="6.3" text-anchor="start" fill="#333" textLength="24" lengthAdjust="spacingAndGlyphs">Unknown</text>
<text x="50" y="770.1" font-size="6.3" text-anchor="start" fill="#333" textLength="152.5" lengthAdjust="spacingAndGlyphs">HEX E=105.0% R^2=0.999 Slope=3.187 y-int=38.239</text>
<line x1="401.5" y1="608" x2="401.5" y2="717.5" stroke="#8a8a8a" stroke-width="1" stroke-dasharray="1 3"/>
<line x1="438.5" y1="608" x2="438.5" y2="717.5" stroke="#8a8a8a" stroke-width="1" stroke-dasharray="1 3"/>
<line x1="476.5" y1="608" x2="476.5" y2="717.5" stroke="#8a8a8a" stroke-width="1" stroke-dasharray="1 3"/>
<line x1="513.5" y1="608" x2="513.5" y2="717.5" stroke="#8a8a8a" stroke-width="1" stroke-dasharray="1 3"/>
<line x1="551.5" y1="608" x2="551.5" y2="717.5" stroke="#8a8a8a" stroke-width="1" stroke-dasharray="1 3"/>
<line x1="588.5" y1="608" x2="588.5" y2="717.5" stroke="#8a8a8a" stroke-width="1" stroke-dasharray="1 3"/>
<line x1="626.5" y1="608" x2="626.5" y2="717.5" stroke="#8a8a8a" stroke-width="1" stroke-dasharray="1 3"/>
<line x1="663.5" y1="608" x2="663.5" y2="717.5" stroke="#8a8a8a" stroke-width="1" stroke-dasharray="1 3"/>
<line x1="402" y1="621.5" x2="681.5" y2="621.5" stroke="#8a8a8a" stroke-width="1" stroke-dasharray="1 3"/>
<line x1="402" y1="643.5" x2="681.5" y2="643.5" stroke="#8a8a8a" stroke-width="1" stroke-dasharray="1 3"/>
<line x1="402" y1="665.5" x2="681.5" y2="665.5" stroke="#8a8a8a" stroke-width="1" stroke-dasharray="1 3"/>
<line x1="402" y1="687.5" x2="681.5" y2="687.5" stroke="#8a8a8a" stroke-width="1" stroke-dasharray="1 3"/>
<line x1="402" y1="709.5" x2="681.5" y2="709.5" stroke="#8a8a8a" stroke-width="1" stroke-dasharray="1 3"/>
<rect x="398.5" y="606.5" width="284" height="112" fill="none" stroke="#2a2a2a" stroke-width="1.1"/>
<line x1="398.5" y1="713.9" x2="400.3" y2="713.9" stroke="#111" stroke-width="1" />
<line x1="682.5" y1="713.9" x2="680.9" y2="713.9" stroke="#111" stroke-width="0.9" />
<line x1="396.9" y1="709.5" x2="401.1" y2="709.5" stroke="#111" stroke-width="1" />
<line x1="682.5" y1="709.5" x2="680.1" y2="709.5" stroke="#111" stroke-width="0.9" />
<line x1="398.5" y1="705.1" x2="400.3" y2="705.1" stroke="#111" stroke-width="1" />
<line x1="682.5" y1="705.1" x2="680.9" y2="705.1" stroke="#111" stroke-width="0.9" />
<line x1="398.5" y1="700.69" x2="400.3" y2="700.69" stroke="#111" stroke-width="1" />
<line x1="682.5" y1="700.69" x2="680.9" y2="700.69" stroke="#111" stroke-width="0.9" />
<line x1="398.5" y1="696.28" x2="400.3" y2="696.28" stroke="#111" stroke-width="1" />
<line x1="682.5" y1="696.28" x2="680.9" y2="696.28" stroke="#111" stroke-width="0.9" />
<line x1="398.5" y1="691.88" x2="400.3" y2="691.88" stroke="#111" stroke-width="1" />
<line x1="682.5" y1="691.88" x2="680.9" y2="691.88" stroke="#111" stroke-width="0.9" />
<line x1="396.9" y1="687.48" x2="401.1" y2="687.48" stroke="#111" stroke-width="1" />
<line x1="682.5" y1="687.48" x2="680.1" y2="687.48" stroke="#111" stroke-width="0.9" />
<line x1="398.5" y1="683.07" x2="400.3" y2="683.07" stroke="#111" stroke-width="1" />
<line x1="682.5" y1="683.07" x2="680.9" y2="683.07" stroke="#111" stroke-width="0.9" />
<line x1="398.5" y1="678.66" x2="400.3" y2="678.66" stroke="#111" stroke-width="1" />
<line x1="682.5" y1="678.66" x2="680.9" y2="678.66" stroke="#111" stroke-width="0.9" />
<line x1="398.5" y1="674.26" x2="400.3" y2="674.26" stroke="#111" stroke-width="1" />
<line x1="682.5" y1="674.26" x2="680.9" y2="674.26" stroke="#111" stroke-width="0.9" />
<line x1="398.5" y1="669.86" x2="400.3" y2="669.86" stroke="#111" stroke-width="1" />
<line x1="682.5" y1="669.86" x2="680.9" y2="669.86" stroke="#111" stroke-width="0.9" />
<line x1="396.9" y1="665.45" x2="401.1" y2="665.45" stroke="#111" stroke-width="1" />
<line x1="682.5" y1="665.45" x2="680.1" y2="665.45" stroke="#111" stroke-width="0.9" />
<line x1="398.5" y1="661.04" x2="400.3" y2="661.04" stroke="#111" stroke-width="1" />
<line x1="682.5" y1="661.04" x2="680.9" y2="661.04" stroke="#111" stroke-width="0.9" />
<line x1="398.5" y1="656.64" x2="400.3" y2="656.64" stroke="#111" stroke-width="1" />
<line x1="682.5" y1="656.64" x2="680.9" y2="656.64" stroke="#111" stroke-width="0.9" />
<line x1="398.5" y1="652.24" x2="400.3" y2="652.24" stroke="#111" stroke-width="1" />
<line x1="682.5" y1="652.24" x2="680.9" y2="652.24" stroke="#111" stroke-width="0.9" />
<line x1="398.5" y1="647.83" x2="400.3" y2="647.83" stroke="#111" stroke-width="1" />
<line x1="682.5" y1="647.83" x2="680.9" y2="647.83" stroke="#111" stroke-width="0.9" />
<line x1="396.9" y1="643.42" x2="401.1" y2="643.42" stroke="#111" stroke-width="1" />
<line x1="682.5" y1="643.42" x2="680.1" y2="643.42" stroke="#111" stroke-width="0.9" />
<line x1="398.5" y1="639.02" x2="400.3" y2="639.02" stroke="#111" stroke-width="1" />
<line x1="682.5" y1="639.02" x2="680.9" y2="639.02" stroke="#111" stroke-width="0.9" />
<line x1="398.5" y1="634.62" x2="400.3" y2="634.62" stroke="#111" stroke-width="1" />
<line x1="682.5" y1="634.62" x2="680.9" y2="634.62" stroke="#111" stroke-width="0.9" />
<line x1="398.5" y1="630.21" x2="400.3" y2="630.21" stroke="#111" stroke-width="1" />
<line x1="682.5" y1="630.21" x2="680.9" y2="630.21" stroke="#111" stroke-width="0.9" />
<line x1="398.5" y1="625.8" x2="400.3" y2="625.8" stroke="#111" stroke-width="1" />
<line x1="682.5" y1="625.8" x2="680.9" y2="625.8" stroke="#111" stroke-width="0.9" />
<line x1="396.9" y1="621.4" x2="401.1" y2="621.4" stroke="#111" stroke-width="1" />
<line x1="682.5" y1="621.4" x2="680.1" y2="621.4" stroke="#111" stroke-width="0.9" />
<line x1="398.5" y1="617" x2="400.3" y2="617" stroke="#111" stroke-width="1" />
<line x1="682.5" y1="617" x2="680.9" y2="617" stroke="#111" stroke-width="0.9" />
<line x1="398.5" y1="612.59" x2="400.3" y2="612.59" stroke="#111" stroke-width="1" />
<line x1="682.5" y1="612.59" x2="680.9" y2="612.59" stroke="#111" stroke-width="0.9" />
<line x1="398.5" y1="608.18" x2="400.3" y2="608.18" stroke="#111" stroke-width="1" />
<line x1="682.5" y1="608.18" x2="680.9" y2="608.18" stroke="#111" stroke-width="0.9" />
<line x1="401.1" y1="720.3" x2="401.1" y2="715.9" stroke="#111" stroke-width="1" />
<line x1="401.1" y1="606.5" x2="401.1" y2="608.9" stroke="#111" stroke-width="0.9" />
<line x1="408.6" y1="718.5" x2="408.6" y2="716.7" stroke="#111" stroke-width="1" />
<line x1="408.6" y1="606.5" x2="408.6" y2="608.1" stroke="#111" stroke-width="0.9" />
<line x1="416.1" y1="718.5" x2="416.1" y2="716.7" stroke="#111" stroke-width="1" />
<line x1="416.1" y1="606.5" x2="416.1" y2="608.1" stroke="#111" stroke-width="0.9" />
<line x1="423.6" y1="718.5" x2="423.6" y2="716.7" stroke="#111" stroke-width="1" />
<line x1="423.6" y1="606.5" x2="423.6" y2="608.1" stroke="#111" stroke-width="0.9" />
<line x1="431.1" y1="718.5" x2="431.1" y2="716.7" stroke="#111" stroke-width="1" />
<line x1="431.1" y1="606.5" x2="431.1" y2="608.1" stroke="#111" stroke-width="0.9" />
<line x1="438.6" y1="720.3" x2="438.6" y2="715.9" stroke="#111" stroke-width="1" />
<line x1="438.6" y1="606.5" x2="438.6" y2="608.9" stroke="#111" stroke-width="0.9" />
<line x1="446.1" y1="718.5" x2="446.1" y2="716.7" stroke="#111" stroke-width="1" />
<line x1="446.1" y1="606.5" x2="446.1" y2="608.1" stroke="#111" stroke-width="0.9" />
<line x1="453.6" y1="718.5" x2="453.6" y2="716.7" stroke="#111" stroke-width="1" />
<line x1="453.6" y1="606.5" x2="453.6" y2="608.1" stroke="#111" stroke-width="0.9" />
<line x1="461.1" y1="718.5" x2="461.1" y2="716.7" stroke="#111" stroke-width="1" />
<line x1="461.1" y1="606.5" x2="461.1" y2="608.1" stroke="#111" stroke-width="0.9" />
<line x1="468.6" y1="718.5" x2="468.6" y2="716.7" stroke="#111" stroke-width="1" />
<line x1="468.6" y1="606.5" x2="468.6" y2="608.1" stroke="#111" stroke-width="0.9" />
<line x1="476.1" y1="720.3" x2="476.1" y2="715.9" stroke="#111" stroke-width="1" />
<line x1="476.1" y1="606.5" x2="476.1" y2="608.9" stroke="#111" stroke-width="0.9" />
<line x1="483.6" y1="718.5" x2="483.6" y2="716.7" stroke="#111" stroke-width="1" />
<line x1="483.6" y1="606.5" x2="483.6" y2="608.1" stroke="#111" stroke-width="0.9" />
<line x1="491.1" y1="718.5" x2="491.1" y2="716.7" stroke="#111" stroke-width="1" />
<line x1="491.1" y1="606.5" x2="491.1" y2="608.1" stroke="#111" stroke-width="0.9" />
<line x1="498.6" y1="718.5" x2="498.6" y2="716.7" stroke="#111" stroke-width="1" />
<line x1="498.6" y1="606.5" x2="498.6" y2="608.1" stroke="#111" stroke-width="0.9" />
<line x1="506.1" y1="718.5" x2="506.1" y2="716.7" stroke="#111" stroke-width="1" />
<line x1="506.1" y1="606.5" x2="506.1" y2="608.1" stroke="#111" stroke-width="0.9" />
<line x1="513.6" y1="720.3" x2="513.6" y2="715.9" stroke="#111" stroke-width="1" />
<line x1="513.6" y1="606.5" x2="513.6" y2="608.9" stroke="#111" stroke-width="0.9" />
<line x1="521.1" y1="718.5" x2="521.1" y2="716.7" stroke="#111" stroke-width="1" />
<line x1="521.1" y1="606.5" x2="521.1" y2="608.1" stroke="#111" stroke-width="0.9" />
<line x1="528.6" y1="718.5" x2="528.6" y2="716.7" stroke="#111" stroke-width="1" />
<line x1="528.6" y1="606.5" x2="528.6" y2="608.1" stroke="#111" stroke-width="0.9" />
<line x1="536.1" y1="718.5" x2="536.1" y2="716.7" stroke="#111" stroke-width="1" />
<line x1="536.1" y1="606.5" x2="536.1" y2="608.1" stroke="#111" stroke-width="0.9" />
<line x1="543.6" y1="718.5" x2="543.6" y2="716.7" stroke="#111" stroke-width="1" />
<line x1="543.6" y1="606.5" x2="543.6" y2="608.1" stroke="#111" stroke-width="0.9" />
<line x1="551.1" y1="720.3" x2="551.1" y2="715.9" stroke="#111" stroke-width="1" />
<line x1="551.1" y1="606.5" x2="551.1" y2="608.9" stroke="#111" stroke-width="0.9" />
<line x1="558.6" y1="718.5" x2="558.6" y2="716.7" stroke="#111" stroke-width="1" />
<line x1="558.6" y1="606.5" x2="558.6" y2="608.1" stroke="#111" stroke-width="0.9" />
<line x1="566.1" y1="718.5" x2="566.1" y2="716.7" stroke="#111" stroke-width="1" />
<line x1="566.1" y1="606.5" x2="566.1" y2="608.1" stroke="#111" stroke-width="0.9" />
<line x1="573.6" y1="718.5" x2="573.6" y2="716.7" stroke="#111" stroke-width="1" />
<line x1="573.6" y1="606.5" x2="573.6" y2="608.1" stroke="#111" stroke-width="0.9" />
<line x1="581.1" y1="718.5" x2="581.1" y2="716.7" stroke="#111" stroke-width="1" />
<line x1="581.1" y1="606.5" x2="581.1" y2="608.1" stroke="#111" stroke-width="0.9" />
<line x1="588.6" y1="720.3" x2="588.6" y2="715.9" stroke="#111" stroke-width="1" />
<line x1="588.6" y1="606.5" x2="588.6" y2="608.9" stroke="#111" stroke-width="0.9" />
<line x1="596.1" y1="718.5" x2="596.1" y2="716.7" stroke="#111" stroke-width="1" />
<line x1="596.1" y1="606.5" x2="596.1" y2="608.1" stroke="#111" stroke-width="0.9" />
<line x1="603.6" y1="718.5" x2="603.6" y2="716.7" stroke="#111" stroke-width="1" />
<line x1="603.6" y1="606.5" x2="603.6" y2="608.1" stroke="#111" stroke-width="0.9" />
<line x1="611.1" y1="718.5" x2="611.1" y2="716.7" stroke="#111" stroke-width="1" />
<line x1="611.1" y1="606.5" x2="611.1" y2="608.1" stroke="#111" stroke-width="0.9" />
<line x1="618.6" y1="718.5" x2="618.6" y2="716.7" stroke="#111" stroke-width="1" />
<line x1="618.6" y1="606.5" x2="618.6" y2="608.1" stroke="#111" stroke-width="0.9" />
<line x1="626.1" y1="720.3" x2="626.1" y2="715.9" stroke="#111" stroke-width="1" />
<line x1="626.1" y1="606.5" x2="626.1" y2="608.9" stroke="#111" stroke-width="0.9" />
<line x1="633.6" y1="718.5" x2="633.6" y2="716.7" stroke="#111" stroke-width="1" />
<line x1="633.6" y1="606.5" x2="633.6" y2="608.1" stroke="#111" stroke-width="0.9" />
<line x1="641.1" y1="718.5" x2="641.1" y2="716.7" stroke="#111" stroke-width="1" />
<line x1="641.1" y1="606.5" x2="641.1" y2="608.1" stroke="#111" stroke-width="0.9" />
<line x1="648.6" y1="718.5" x2="648.6" y2="716.7" stroke="#111" stroke-width="1" />
<line x1="648.6" y1="606.5" x2="648.6" y2="608.1" stroke="#111" stroke-width="0.9" />
<line x1="656.1" y1="718.5" x2="656.1" y2="716.7" stroke="#111" stroke-width="1" />
<line x1="656.1" y1="606.5" x2="656.1" y2="608.1" stroke="#111" stroke-width="0.9" />
<line x1="663.6" y1="720.3" x2="663.6" y2="715.9" stroke="#111" stroke-width="1" />
<line x1="663.6" y1="606.5" x2="663.6" y2="608.9" stroke="#111" stroke-width="0.9" />
<line x1="671.1" y1="718.5" x2="671.1" y2="716.7" stroke="#111" stroke-width="1" />
<line x1="671.1" y1="606.5" x2="671.1" y2="608.1" stroke="#111" stroke-width="0.9" />
<line x1="678.6" y1="718.5" x2="678.6" y2="716.7" stroke="#111" stroke-width="1" />
<line x1="678.6" y1="606.5" x2="678.6" y2="608.1" stroke="#111" stroke-width="0.9" />
<line x1="410.48" y1="611.62" x2="669.23" y2="713.51" stroke="#ff4040" stroke-width="1.2" />
<circle cx="438.6" cy="625.8" r="2.5" fill="none" stroke="#ff4040" stroke-width="1"/>
<circle cx="476.1" cy="636.82" r="2.5" fill="none" stroke="#ff4040" stroke-width="1"/>
<circle cx="513.6" cy="650.47" r="2.5" fill="none" stroke="#ff4040" stroke-width="1"/>
<circle cx="551.1" cy="665.01" r="2.5" fill="none" stroke="#ff4040" stroke-width="1"/>
<circle cx="588.6" cy="679.77" r="2.5" fill="none" stroke="#ff4040" stroke-width="1"/>
<circle cx="626.1" cy="696.73" r="2.5" fill="none" stroke="#ff4040" stroke-width="1"/>
<circle cx="663.6" cy="713.6" r="2.5" fill="none" stroke="#ff4040" stroke-width="1"/>
<text x="392.4" y="624.1" font-size="7.4" text-anchor="end" fill="#222" stroke="#222" stroke-width="0.15" textLength="7.8" lengthAdjust="spacingAndGlyphs">35</text>
<text x="392.4" y="646.12" font-size="7.4" text-anchor="end" fill="#222" stroke="#222" stroke-width="0.15" textLength="7.8" lengthAdjust="spacingAndGlyphs">30</text>
<text x="392.4" y="668.15" font-size="7.4" text-anchor="end" fill="#222" stroke="#222" stroke-width="0.15" textLength="7.8" lengthAdjust="spacingAndGlyphs">25</text>
<text x="392.4" y="690.18" font-size="7.4" text-anchor="end" fill="#222" stroke="#222" stroke-width="0.15" textLength="7.8" lengthAdjust="spacingAndGlyphs">20</text>
<text x="392.4" y="712.2" font-size="7.4" text-anchor="end" fill="#222" stroke="#222" stroke-width="0.15" textLength="7.8" lengthAdjust="spacingAndGlyphs">15</text>
<text x="401.1" y="730.7" font-size="7.4" text-anchor="middle" fill="#222" stroke="#222" stroke-width="0.15" textLength="3.9" lengthAdjust="spacingAndGlyphs">0</text>
<text x="438.6" y="730.7" font-size="7.4" text-anchor="middle" fill="#222" stroke="#222" stroke-width="0.15" textLength="3.9" lengthAdjust="spacingAndGlyphs">1</text>
<text x="476.1" y="730.7" font-size="7.4" text-anchor="middle" fill="#222" stroke="#222" stroke-width="0.15" textLength="3.9" lengthAdjust="spacingAndGlyphs">2</text>
<text x="513.6" y="730.7" font-size="7.4" text-anchor="middle" fill="#222" stroke="#222" stroke-width="0.15" textLength="3.9" lengthAdjust="spacingAndGlyphs">3</text>
<text x="551.1" y="730.7" font-size="7.4" text-anchor="middle" fill="#222" stroke="#222" stroke-width="0.15" textLength="3.9" lengthAdjust="spacingAndGlyphs">4</text>
<text x="588.6" y="730.7" font-size="7.4" text-anchor="middle" fill="#222" stroke="#222" stroke-width="0.15" textLength="3.9" lengthAdjust="spacingAndGlyphs">5</text>
<text x="626.1" y="730.7" font-size="7.4" text-anchor="middle" fill="#222" stroke="#222" stroke-width="0.15" textLength="3.9" lengthAdjust="spacingAndGlyphs">6</text>
<text x="663.6" y="730.7" font-size="7.4" text-anchor="middle" fill="#222" stroke="#222" stroke-width="0.15" textLength="3.9" lengthAdjust="spacingAndGlyphs">7</text>
<text x="529.9" y="602.2" font-size="7.3" text-anchor="middle" fill="#111" stroke="#111" stroke-width="0.2" font-weight="bold" textLength="49.8" lengthAdjust="spacingAndGlyphs">Standard Curve</text>
<text x="541" y="741.5" font-size="7.3" text-anchor="middle" fill="#111" stroke="#111" stroke-width="0.2" font-weight="bold" textLength="69" lengthAdjust="spacingAndGlyphs">Log Starting Quantity</text>
<text x="378.5" y="663" font-size="7.2" text-anchor="middle" fill="#111" font-weight="bold" textLength="7.8" lengthAdjust="spacingAndGlyphs" transform="rotate(-90 378.5 663)">Cq</text>
<rect x="396.5" y="746.5" width="178" height="27" fill="#fff" stroke="#6e6e6e" stroke-width="1.1"/>
<circle cx="406.1" cy="752.5" r="2.2" fill="none" stroke="#444" stroke-width="0.9"/>
<line x1="403.1" y1="758" x2="409.1" y2="764" stroke="#444" stroke-width="0.8" />
<line x1="409.1" y1="758" x2="403.1" y2="764" stroke="#444" stroke-width="0.8" />
<line x1="399.7" y1="768.5" x2="412.2" y2="768.5" stroke="#ff4040" stroke-width="1" />
<text x="419.1" y="753.9" font-size="6.3" text-anchor="start" fill="#333" textLength="23.4" lengthAdjust="spacingAndGlyphs">Standard</text>
<text x="418.6" y="761.9" font-size="6.3" text-anchor="start" fill="#333" textLength="24" lengthAdjust="spacingAndGlyphs">Unknown</text>
<text x="419.1" y="770.1" font-size="6.3" text-anchor="start" fill="#333" textLength="152.6" lengthAdjust="spacingAndGlyphs">Texas Red E=98.6% R^2=0.995 Slope=3.357 y-int=38.119</text>
<text x="379.6" y="169.7" font-size="7.6" text-anchor="middle" fill="#222" stroke="#222" stroke-width="0.15" textLength="4.1" lengthAdjust="spacingAndGlyphs">0</text>
<text x="3.3" y="13.6" font-size="17.5" text-anchor="start" fill="#000" font-weight="bold">a</text>
<text x="362.6" y="13.6" font-size="17.5" text-anchor="start" fill="#000" font-weight="bold">b</text>
<text x="2.8" y="417" font-size="17.5" text-anchor="start" fill="#000" font-weight="bold">c</text>
<text x="361.8" y="416" font-size="17.5" text-anchor="start" fill="#000" font-weight="bold">d</text>
</svg>
</body></html>
